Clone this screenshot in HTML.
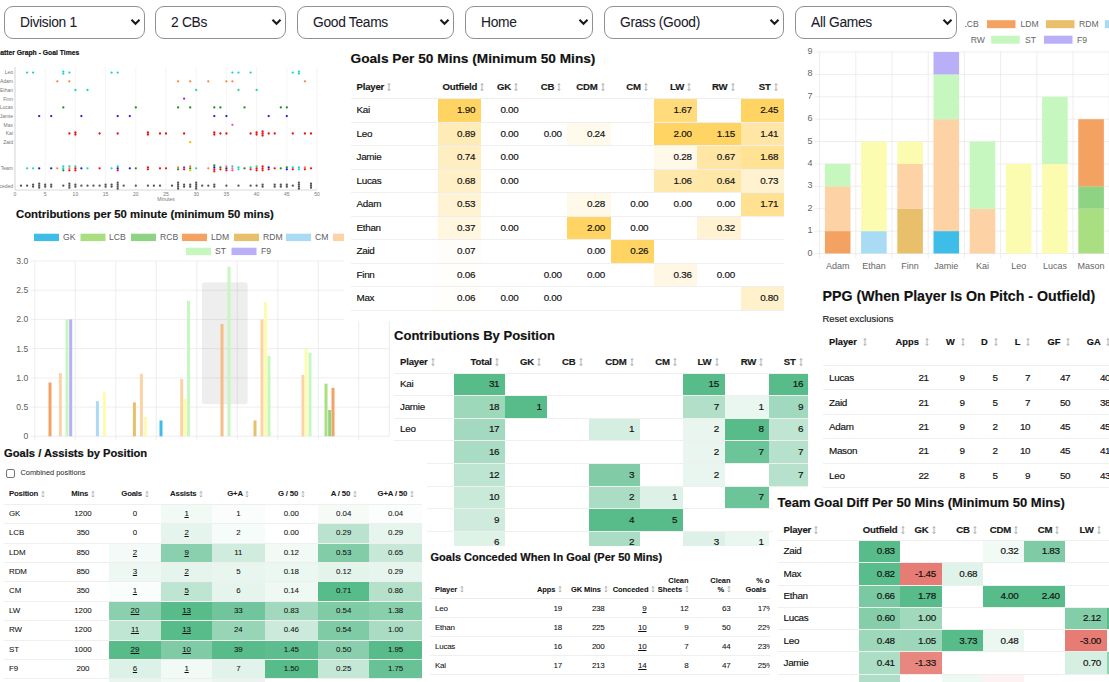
<!DOCTYPE html><html><head><meta charset="utf-8"><style>

*{box-sizing:border-box;margin:0;padding:0}
html,body{width:1109px;height:682px;overflow:hidden;background:#fff;font-family:"Liberation Sans",sans-serif;color:#111}
.p{position:absolute;background:#fff;overflow:hidden}
.a{position:absolute;white-space:nowrap}
.sel{-webkit-text-stroke:0.06px currentColor !important;position:absolute;top:6px;height:33px;border:1px solid #909090;border-radius:9px;background:#fff;font-size:13.8px;letter-spacing:-0.3px;color:#1a1a2a;padding-left:15px;line-height:31px}
.sel svg{position:absolute;right:3px;top:11px}
.ttl{position:absolute;font-weight:bold;color:#111;white-space:nowrap}
table{border-collapse:collapse;position:absolute;table-layout:fixed}
td,th{padding:0;white-space:nowrap;overflow:hidden}
body *{-webkit-text-stroke:0.16px currentColor}
.sm, .sm *{-webkit-text-stroke:0.06px currentColor}
svg *{-webkit-text-stroke:0}
.ar{color:#aaa;font-weight:normal}

</style></head><body>
<div class="p" style="left:0;top:44px;width:334px;height:162px">
<div class="ttl" style="left:-8.2px;top:4.5px;font-size:6.8px">Scatter Graph - Goal Times</div>
<svg width="334" height="162" style="position:absolute;left:0;top:0"><line x1="15.0" y1="23.0" x2="15.0" y2="146.0" stroke="#ececec" stroke-width="0.6"/><line x1="45.2" y1="23.0" x2="45.2" y2="146.0" stroke="#ececec" stroke-width="0.6"/><line x1="75.4" y1="23.0" x2="75.4" y2="146.0" stroke="#ececec" stroke-width="0.6"/><line x1="105.6" y1="23.0" x2="105.6" y2="146.0" stroke="#ececec" stroke-width="0.6"/><line x1="135.8" y1="23.0" x2="135.8" y2="146.0" stroke="#ececec" stroke-width="0.6"/><line x1="166.0" y1="23.0" x2="166.0" y2="146.0" stroke="#ececec" stroke-width="0.6"/><line x1="196.2" y1="23.0" x2="196.2" y2="146.0" stroke="#ececec" stroke-width="0.6"/><line x1="226.4" y1="23.0" x2="226.4" y2="146.0" stroke="#ececec" stroke-width="0.6"/><line x1="256.6" y1="23.0" x2="256.6" y2="146.0" stroke="#ececec" stroke-width="0.6"/><line x1="286.8" y1="23.0" x2="286.8" y2="146.0" stroke="#ececec" stroke-width="0.6"/><line x1="317.0" y1="23.0" x2="317.0" y2="146.0" stroke="#ececec" stroke-width="0.6"/><line x1="15.0" y1="23.0" x2="15.0" y2="146.0" stroke="#cfcfcf" stroke-width="0.8"/><line x1="15.0" y1="146.0" x2="317.0" y2="146.0" stroke="#cfcfcf" stroke-width="0.8"/><text x="13" y="30.4" font-size="5" fill="#777" text-anchor="end" font-family="Liberation Sans">Leo</text><text x="13" y="39.1" font-size="5" fill="#777" text-anchor="end" font-family="Liberation Sans">Adam</text><text x="13" y="47.8" font-size="5" fill="#777" text-anchor="end" font-family="Liberation Sans">Ethan</text><text x="13" y="56.5" font-size="5" fill="#777" text-anchor="end" font-family="Liberation Sans">Finn</text><text x="13" y="65.2" font-size="5" fill="#777" text-anchor="end" font-family="Liberation Sans">Lucas</text><text x="13" y="73.9" font-size="5" fill="#777" text-anchor="end" font-family="Liberation Sans">Jamie</text><text x="13" y="82.6" font-size="5" fill="#777" text-anchor="end" font-family="Liberation Sans">Max</text><text x="13" y="91.3" font-size="5" fill="#777" text-anchor="end" font-family="Liberation Sans">Kai</text><text x="13" y="100.0" font-size="5" fill="#777" text-anchor="end" font-family="Liberation Sans">Zaid</text><text x="13" y="126.1" font-size="5" fill="#777" text-anchor="end" font-family="Liberation Sans">Team</text><text x="13" y="143.5" font-size="5" fill="#777" text-anchor="end" font-family="Liberation Sans">Conceded</text><text x="15.0" y="152.0" font-size="5" fill="#777" text-anchor="middle" font-family="Liberation Sans">0</text><text x="45.2" y="152.0" font-size="5" fill="#777" text-anchor="middle" font-family="Liberation Sans">5</text><text x="75.4" y="152.0" font-size="5" fill="#777" text-anchor="middle" font-family="Liberation Sans">10</text><text x="105.6" y="152.0" font-size="5" fill="#777" text-anchor="middle" font-family="Liberation Sans">15</text><text x="135.8" y="152.0" font-size="5" fill="#777" text-anchor="middle" font-family="Liberation Sans">20</text><text x="166.0" y="152.0" font-size="5" fill="#777" text-anchor="middle" font-family="Liberation Sans">25</text><text x="196.2" y="152.0" font-size="5" fill="#777" text-anchor="middle" font-family="Liberation Sans">30</text><text x="226.4" y="152.0" font-size="5" fill="#777" text-anchor="middle" font-family="Liberation Sans">35</text><text x="256.6" y="152.0" font-size="5" fill="#777" text-anchor="middle" font-family="Liberation Sans">40</text><text x="286.8" y="152.0" font-size="5" fill="#777" text-anchor="middle" font-family="Liberation Sans">45</text><text x="317.0" y="152.0" font-size="5" fill="#777" text-anchor="middle" font-family="Liberation Sans">50</text><text x="166.0" y="157.0" font-size="5" fill="#777" text-anchor="middle" font-family="Liberation Sans">Minutes</text><circle cx="27.1" cy="28.6" r="1.15" fill="#19d3d3"/><circle cx="33.1" cy="28.6" r="1.15" fill="#19d3d3"/><circle cx="63.3" cy="27.6" r="1.15" fill="#19d3d3"/><circle cx="63.3" cy="29.6" r="1.15" fill="#19d3d3"/><circle cx="69.4" cy="28.6" r="1.15" fill="#19d3d3"/><circle cx="111.6" cy="28.6" r="1.15" fill="#19d3d3"/><circle cx="117.7" cy="28.6" r="1.15" fill="#19d3d3"/><circle cx="232.4" cy="28.6" r="1.15" fill="#19d3d3"/><circle cx="238.5" cy="28.6" r="1.15" fill="#19d3d3"/><circle cx="250.6" cy="28.6" r="1.15" fill="#19d3d3"/><circle cx="292.8" cy="28.6" r="1.15" fill="#19d3d3"/><circle cx="298.9" cy="27.6" r="1.15" fill="#19d3d3"/><circle cx="298.9" cy="29.6" r="1.15" fill="#19d3d3"/><circle cx="57.3" cy="37.3" r="1.15" fill="#ff8040"/><circle cx="69.4" cy="37.3" r="1.15" fill="#ff8040"/><circle cx="178.1" cy="37.3" r="1.15" fill="#ff8040"/><circle cx="190.2" cy="37.3" r="1.15" fill="#ff8040"/><circle cx="208.3" cy="37.3" r="1.15" fill="#ff8040"/><circle cx="226.4" cy="37.3" r="1.15" fill="#ff8040"/><circle cx="232.4" cy="37.3" r="1.15" fill="#ff8040"/><circle cx="304.9" cy="37.3" r="1.15" fill="#ff8040"/><circle cx="75.4" cy="46.0" r="1.15" fill="#1fdc9a"/><circle cx="87.5" cy="46.0" r="1.15" fill="#1fdc9a"/><circle cx="196.2" cy="46.0" r="1.15" fill="#1fdc9a"/><circle cx="238.5" cy="46.0" r="1.15" fill="#1fdc9a"/><circle cx="256.6" cy="46.0" r="1.15" fill="#1fdc9a"/><circle cx="184.1" cy="54.7" r="1.15" fill="#a020f0"/><circle cx="63.3" cy="63.4" r="1.15" fill="#228b22"/><circle cx="135.8" cy="63.4" r="1.15" fill="#228b22"/><circle cx="178.1" cy="63.4" r="1.15" fill="#228b22"/><circle cx="190.2" cy="63.4" r="1.15" fill="#228b22"/><circle cx="214.3" cy="63.4" r="1.15" fill="#228b22"/><circle cx="220.4" cy="63.4" r="1.15" fill="#228b22"/><circle cx="244.5" cy="63.4" r="1.15" fill="#228b22"/><circle cx="280.8" cy="63.4" r="1.15" fill="#228b22"/><circle cx="286.8" cy="63.4" r="1.15" fill="#228b22"/><circle cx="39.2" cy="72.1" r="1.15" fill="#1a1ae6"/><circle cx="51.2" cy="72.1" r="1.15" fill="#1a1ae6"/><circle cx="81.4" cy="72.1" r="1.15" fill="#1a1ae6"/><circle cx="117.7" cy="72.1" r="1.15" fill="#1a1ae6"/><circle cx="129.8" cy="72.1" r="1.15" fill="#1a1ae6"/><circle cx="214.3" cy="72.1" r="1.15" fill="#1a1ae6"/><circle cx="226.4" cy="72.1" r="1.15" fill="#1a1ae6"/><circle cx="268.7" cy="72.1" r="1.15" fill="#1a1ae6"/><circle cx="286.8" cy="72.1" r="1.15" fill="#1a1ae6"/><circle cx="232.4" cy="80.8" r="1.15" fill="#ff40c0"/><circle cx="69.4" cy="89.5" r="1.15" fill="#f01010"/><circle cx="75.4" cy="88.5" r="1.15" fill="#f01010"/><circle cx="75.4" cy="90.5" r="1.15" fill="#f01010"/><circle cx="99.6" cy="89.5" r="1.15" fill="#f01010"/><circle cx="117.7" cy="89.5" r="1.15" fill="#f01010"/><circle cx="147.9" cy="88.5" r="1.15" fill="#f01010"/><circle cx="147.9" cy="90.5" r="1.15" fill="#f01010"/><circle cx="160.0" cy="89.5" r="1.15" fill="#f01010"/><circle cx="166.0" cy="89.5" r="1.15" fill="#f01010"/><circle cx="184.1" cy="89.5" r="1.15" fill="#f01010"/><circle cx="214.3" cy="88.5" r="1.15" fill="#f01010"/><circle cx="214.3" cy="90.5" r="1.15" fill="#f01010"/><circle cx="220.4" cy="89.5" r="1.15" fill="#f01010"/><circle cx="226.4" cy="89.5" r="1.15" fill="#f01010"/><circle cx="250.6" cy="89.5" r="1.15" fill="#f01010"/><circle cx="256.6" cy="88.5" r="1.15" fill="#f01010"/><circle cx="256.6" cy="90.5" r="1.15" fill="#f01010"/><circle cx="262.6" cy="87.5" r="1.15" fill="#f01010"/><circle cx="262.6" cy="89.5" r="1.15" fill="#f01010"/><circle cx="262.6" cy="91.5" r="1.15" fill="#f01010"/><circle cx="268.7" cy="89.5" r="1.15" fill="#f01010"/><circle cx="274.7" cy="89.5" r="1.15" fill="#f01010"/><circle cx="292.8" cy="89.5" r="1.15" fill="#f01010"/><circle cx="304.9" cy="89.5" r="1.15" fill="#f01010"/><circle cx="311.0" cy="89.5" r="1.15" fill="#f01010"/><circle cx="190.2" cy="98.2" r="1.15" fill="#e8c000"/><circle cx="27.1" cy="124.3" r="1.15" fill="#19d3d3"/><circle cx="33.1" cy="124.3" r="1.15" fill="#19d3d3"/><circle cx="63.3" cy="122.3" r="1.15" fill="#19d3d3"/><circle cx="63.3" cy="124.3" r="1.15" fill="#19d3d3"/><circle cx="63.3" cy="126.3" r="1.15" fill="#228b22"/><circle cx="69.4" cy="122.3" r="1.15" fill="#19d3d3"/><circle cx="69.4" cy="124.3" r="1.15" fill="#ff8040"/><circle cx="69.4" cy="126.3" r="1.15" fill="#f01010"/><circle cx="111.6" cy="124.3" r="1.15" fill="#19d3d3"/><circle cx="117.7" cy="122.3" r="1.15" fill="#19d3d3"/><circle cx="117.7" cy="124.3" r="1.15" fill="#1a1ae6"/><circle cx="117.7" cy="126.3" r="1.15" fill="#f01010"/><circle cx="232.4" cy="122.3" r="1.15" fill="#19d3d3"/><circle cx="232.4" cy="124.3" r="1.15" fill="#ff8040"/><circle cx="232.4" cy="126.3" r="1.15" fill="#ff40c0"/><circle cx="238.5" cy="123.3" r="1.15" fill="#19d3d3"/><circle cx="238.5" cy="125.3" r="1.15" fill="#1fdc9a"/><circle cx="250.6" cy="123.3" r="1.15" fill="#19d3d3"/><circle cx="250.6" cy="125.3" r="1.15" fill="#f01010"/><circle cx="292.8" cy="123.3" r="1.15" fill="#19d3d3"/><circle cx="292.8" cy="125.3" r="1.15" fill="#f01010"/><circle cx="298.9" cy="123.3" r="1.15" fill="#19d3d3"/><circle cx="298.9" cy="125.3" r="1.15" fill="#19d3d3"/><circle cx="57.3" cy="124.3" r="1.15" fill="#ff8040"/><circle cx="178.1" cy="123.3" r="1.15" fill="#ff8040"/><circle cx="178.1" cy="125.3" r="1.15" fill="#228b22"/><circle cx="190.2" cy="122.3" r="1.15" fill="#ff8040"/><circle cx="190.2" cy="124.3" r="1.15" fill="#228b22"/><circle cx="190.2" cy="126.3" r="1.15" fill="#e8c000"/><circle cx="208.3" cy="124.3" r="1.15" fill="#ff8040"/><circle cx="226.4" cy="122.3" r="1.15" fill="#ff8040"/><circle cx="226.4" cy="124.3" r="1.15" fill="#1a1ae6"/><circle cx="226.4" cy="126.3" r="1.15" fill="#f01010"/><circle cx="304.9" cy="123.3" r="1.15" fill="#ff8040"/><circle cx="304.9" cy="125.3" r="1.15" fill="#f01010"/><circle cx="75.4" cy="122.3" r="1.15" fill="#1fdc9a"/><circle cx="75.4" cy="124.3" r="1.15" fill="#f01010"/><circle cx="75.4" cy="126.3" r="1.15" fill="#f01010"/><circle cx="87.5" cy="124.3" r="1.15" fill="#1fdc9a"/><circle cx="196.2" cy="124.3" r="1.15" fill="#1fdc9a"/><circle cx="256.6" cy="122.3" r="1.15" fill="#1fdc9a"/><circle cx="256.6" cy="124.3" r="1.15" fill="#f01010"/><circle cx="256.6" cy="126.3" r="1.15" fill="#f01010"/><circle cx="184.1" cy="123.3" r="1.15" fill="#a020f0"/><circle cx="184.1" cy="125.3" r="1.15" fill="#f01010"/><circle cx="135.8" cy="124.3" r="1.15" fill="#228b22"/><circle cx="214.3" cy="121.3" r="1.15" fill="#228b22"/><circle cx="214.3" cy="123.3" r="1.15" fill="#1a1ae6"/><circle cx="214.3" cy="125.3" r="1.15" fill="#f01010"/><circle cx="214.3" cy="127.3" r="1.15" fill="#f01010"/><circle cx="220.4" cy="123.3" r="1.15" fill="#228b22"/><circle cx="220.4" cy="125.3" r="1.15" fill="#f01010"/><circle cx="244.5" cy="124.3" r="1.15" fill="#228b22"/><circle cx="280.8" cy="124.3" r="1.15" fill="#228b22"/><circle cx="286.8" cy="123.3" r="1.15" fill="#228b22"/><circle cx="286.8" cy="125.3" r="1.15" fill="#1a1ae6"/><circle cx="39.2" cy="124.3" r="1.15" fill="#1a1ae6"/><circle cx="51.2" cy="124.3" r="1.15" fill="#1a1ae6"/><circle cx="81.4" cy="124.3" r="1.15" fill="#1a1ae6"/><circle cx="129.8" cy="124.3" r="1.15" fill="#1a1ae6"/><circle cx="268.7" cy="123.3" r="1.15" fill="#1a1ae6"/><circle cx="268.7" cy="125.3" r="1.15" fill="#f01010"/><circle cx="99.6" cy="124.3" r="1.15" fill="#f01010"/><circle cx="147.9" cy="123.3" r="1.15" fill="#f01010"/><circle cx="147.9" cy="125.3" r="1.15" fill="#f01010"/><circle cx="160.0" cy="124.3" r="1.15" fill="#f01010"/><circle cx="166.0" cy="124.3" r="1.15" fill="#f01010"/><circle cx="262.6" cy="122.3" r="1.15" fill="#f01010"/><circle cx="262.6" cy="124.3" r="1.15" fill="#f01010"/><circle cx="262.6" cy="126.3" r="1.15" fill="#f01010"/><circle cx="274.7" cy="124.3" r="1.15" fill="#f01010"/><circle cx="311.0" cy="124.3" r="1.15" fill="#f01010"/><circle cx="21.0" cy="141.7" r="1.15" fill="#555"/><circle cx="27.1" cy="141.7" r="1.15" fill="#555"/><circle cx="33.1" cy="140.7" r="1.15" fill="#555"/><circle cx="33.1" cy="142.7" r="1.15" fill="#555"/><circle cx="39.2" cy="139.7" r="1.15" fill="#555"/><circle cx="39.2" cy="141.7" r="1.15" fill="#555"/><circle cx="39.2" cy="143.7" r="1.15" fill="#555"/><circle cx="45.2" cy="140.7" r="1.15" fill="#555"/><circle cx="45.2" cy="142.7" r="1.15" fill="#555"/><circle cx="51.2" cy="140.7" r="1.15" fill="#555"/><circle cx="51.2" cy="142.7" r="1.15" fill="#555"/><circle cx="63.3" cy="141.7" r="1.15" fill="#555"/><circle cx="69.4" cy="139.7" r="1.15" fill="#555"/><circle cx="69.4" cy="141.7" r="1.15" fill="#555"/><circle cx="69.4" cy="143.7" r="1.15" fill="#555"/><circle cx="75.4" cy="140.7" r="1.15" fill="#555"/><circle cx="75.4" cy="142.7" r="1.15" fill="#555"/><circle cx="81.4" cy="141.7" r="1.15" fill="#555"/><circle cx="87.5" cy="141.7" r="1.15" fill="#555"/><circle cx="93.5" cy="141.7" r="1.15" fill="#555"/><circle cx="99.6" cy="141.7" r="1.15" fill="#555"/><circle cx="105.6" cy="140.7" r="1.15" fill="#555"/><circle cx="105.6" cy="142.7" r="1.15" fill="#555"/><circle cx="111.6" cy="140.7" r="1.15" fill="#555"/><circle cx="111.6" cy="142.7" r="1.15" fill="#555"/><circle cx="117.7" cy="138.7" r="1.15" fill="#555"/><circle cx="117.7" cy="140.7" r="1.15" fill="#555"/><circle cx="117.7" cy="142.7" r="1.15" fill="#555"/><circle cx="117.7" cy="144.7" r="1.15" fill="#555"/><circle cx="123.7" cy="141.7" r="1.15" fill="#555"/><circle cx="135.8" cy="141.7" r="1.15" fill="#555"/><circle cx="147.9" cy="141.7" r="1.15" fill="#555"/><circle cx="153.9" cy="141.7" r="1.15" fill="#555"/><circle cx="160.0" cy="141.7" r="1.15" fill="#555"/><circle cx="172.0" cy="141.7" r="1.15" fill="#555"/><circle cx="178.1" cy="138.7" r="1.15" fill="#555"/><circle cx="178.1" cy="140.7" r="1.15" fill="#555"/><circle cx="178.1" cy="142.7" r="1.15" fill="#555"/><circle cx="178.1" cy="144.7" r="1.15" fill="#555"/><circle cx="184.1" cy="140.7" r="1.15" fill="#555"/><circle cx="184.1" cy="142.7" r="1.15" fill="#555"/><circle cx="190.2" cy="140.7" r="1.15" fill="#555"/><circle cx="190.2" cy="142.7" r="1.15" fill="#555"/><circle cx="196.2" cy="138.7" r="1.15" fill="#555"/><circle cx="196.2" cy="140.7" r="1.15" fill="#555"/><circle cx="196.2" cy="142.7" r="1.15" fill="#555"/><circle cx="196.2" cy="144.7" r="1.15" fill="#555"/><circle cx="202.2" cy="141.7" r="1.15" fill="#555"/><circle cx="208.3" cy="141.7" r="1.15" fill="#555"/><circle cx="214.3" cy="140.7" r="1.15" fill="#555"/><circle cx="214.3" cy="142.7" r="1.15" fill="#555"/><circle cx="226.4" cy="141.7" r="1.15" fill="#555"/><circle cx="238.5" cy="141.7" r="1.15" fill="#555"/><circle cx="250.6" cy="141.7" r="1.15" fill="#555"/><circle cx="256.6" cy="141.7" r="1.15" fill="#555"/><circle cx="262.6" cy="140.7" r="1.15" fill="#555"/><circle cx="262.6" cy="142.7" r="1.15" fill="#555"/><circle cx="274.7" cy="140.7" r="1.15" fill="#555"/><circle cx="274.7" cy="142.7" r="1.15" fill="#555"/><circle cx="280.8" cy="140.7" r="1.15" fill="#555"/><circle cx="280.8" cy="142.7" r="1.15" fill="#555"/><circle cx="286.8" cy="140.7" r="1.15" fill="#555"/><circle cx="286.8" cy="142.7" r="1.15" fill="#555"/><circle cx="292.8" cy="141.7" r="1.15" fill="#555"/><circle cx="298.9" cy="138.7" r="1.15" fill="#555"/><circle cx="298.9" cy="140.7" r="1.15" fill="#555"/><circle cx="298.9" cy="142.7" r="1.15" fill="#555"/><circle cx="298.9" cy="144.7" r="1.15" fill="#555"/><circle cx="311.0" cy="139.7" r="1.15" fill="#555"/><circle cx="311.0" cy="141.7" r="1.15" fill="#555"/><circle cx="311.0" cy="143.7" r="1.15" fill="#555"/></svg>
</div>
<div class="p" style="left:0;top:205px;width:392px;height:236px">
<div class="ttl" style="left:16px;top:3px;font-size:11.35px">Contributions per 50 minute (minimum 50 mins)</div>
<svg width="392" height="236" style="position:absolute;left:0;top:0"><rect x="34.0" y="28.7" width="25" height="7.4" fill="#3ebde9"/><text x="63.0" y="35.4" font-size="8.6" fill="#606060" font-family="Liberation Sans">GK</text><rect x="80.5" y="28.7" width="25" height="7.4" fill="#a9df80"/><text x="109.0" y="35.4" font-size="8.6" fill="#606060" font-family="Liberation Sans">LCB</text><rect x="131.0" y="28.7" width="25" height="7.4" fill="#8ed383"/><text x="160.0" y="35.4" font-size="8.6" fill="#606060" font-family="Liberation Sans">RCB</text><rect x="182.0" y="28.7" width="25" height="7.4" fill="#f4a262"/><text x="211.0" y="35.4" font-size="8.6" fill="#606060" font-family="Liberation Sans">LDM</text><rect x="234.0" y="28.7" width="25" height="7.4" fill="#e8bf6a"/><text x="263.0" y="35.4" font-size="8.6" fill="#606060" font-family="Liberation Sans">RDM</text><rect x="286.0" y="28.7" width="25" height="7.4" fill="#a9dbf5"/><text x="315.0" y="35.4" font-size="8.6" fill="#606060" font-family="Liberation Sans">CM</text><rect x="333.0" y="28.7" width="25" height="7.4" fill="#fdd3a5"/><text x="362.0" y="35.4" font-size="8.6" fill="#606060" font-family="Liberation Sans">CDM</text><rect x="186.0" y="42.7" width="25" height="7.4" fill="#c5f7bf"/><text x="215.0" y="49.4" font-size="8.6" fill="#606060" font-family="Liberation Sans">ST</text><rect x="231.5" y="42.7" width="25" height="7.4" fill="#b9aef8"/><text x="261.0" y="49.4" font-size="8.6" fill="#606060" font-family="Liberation Sans">F9</text><line x1="30.8" y1="231.3" x2="389.3" y2="231.3" stroke="#e6e6e6" stroke-width="0.7"/><text x="28.2" y="234.3" font-size="8.6" fill="#606060" text-anchor="end" font-family="Liberation Sans">0</text><line x1="30.8" y1="202.1" x2="389.3" y2="202.1" stroke="#e6e6e6" stroke-width="0.7"/><text x="28.2" y="205.1" font-size="8.6" fill="#606060" text-anchor="end" font-family="Liberation Sans">0.5</text><line x1="30.8" y1="172.9" x2="389.3" y2="172.9" stroke="#e6e6e6" stroke-width="0.7"/><text x="28.2" y="175.9" font-size="8.6" fill="#606060" text-anchor="end" font-family="Liberation Sans">1.0</text><line x1="30.8" y1="143.6" x2="389.3" y2="143.6" stroke="#e6e6e6" stroke-width="0.7"/><text x="28.2" y="146.6" font-size="8.6" fill="#606060" text-anchor="end" font-family="Liberation Sans">1.5</text><line x1="30.8" y1="114.4" x2="389.3" y2="114.4" stroke="#e6e6e6" stroke-width="0.7"/><text x="28.2" y="117.4" font-size="8.6" fill="#606060" text-anchor="end" font-family="Liberation Sans">2.0</text><line x1="30.8" y1="85.2" x2="389.3" y2="85.2" stroke="#e6e6e6" stroke-width="0.7"/><text x="28.2" y="88.2" font-size="8.6" fill="#606060" text-anchor="end" font-family="Liberation Sans">2.5</text><line x1="30.8" y1="56.0" x2="389.3" y2="56.0" stroke="#e6e6e6" stroke-width="0.7"/><text x="28.2" y="59.0" font-size="8.6" fill="#606060" text-anchor="end" font-family="Liberation Sans">3.0</text><line x1="34.8" y1="56.0" x2="34.8" y2="235.3" stroke="#e6e6e6" stroke-width="0.7"/><line x1="75.3" y1="56.0" x2="75.3" y2="235.3" stroke="#e6e6e6" stroke-width="0.7"/><line x1="115.8" y1="56.0" x2="115.8" y2="235.3" stroke="#e6e6e6" stroke-width="0.7"/><line x1="156.3" y1="56.0" x2="156.3" y2="235.3" stroke="#e6e6e6" stroke-width="0.7"/><line x1="196.8" y1="56.0" x2="196.8" y2="235.3" stroke="#e6e6e6" stroke-width="0.7"/><line x1="237.3" y1="56.0" x2="237.3" y2="235.3" stroke="#e6e6e6" stroke-width="0.7"/><line x1="277.8" y1="56.0" x2="277.8" y2="235.3" stroke="#e6e6e6" stroke-width="0.7"/><line x1="318.3" y1="56.0" x2="318.3" y2="235.3" stroke="#e6e6e6" stroke-width="0.7"/><line x1="358.8" y1="56.0" x2="358.8" y2="235.3" stroke="#e6e6e6" stroke-width="0.7"/><line x1="399.3" y1="56.0" x2="399.3" y2="235.3" stroke="#e6e6e6" stroke-width="0.7"/><line x1="389.3" y1="56.0" x2="389.3" y2="231.3" stroke="#e6e6e6" stroke-width="0.8"/><rect x="202" y="77.2" width="45.7" height="122" rx="3" fill="#000" fill-opacity="0.065"/><rect x="48.5" y="177.5" width="3" height="53.8" fill="#f4a262"/><rect x="58.9" y="168.2" width="3" height="63.1" fill="#fdd3a5"/><rect x="65.5" y="114.4" width="3" height="116.9" fill="#c5f7bf"/><rect x="69.2" y="114.4" width="3" height="116.9" fill="#b9aef8"/><rect x="95.9" y="196.2" width="3" height="35.1" fill="#a9dbf5"/><rect x="102.9" y="186.9" width="3" height="44.4" fill="#fcfcb0"/><rect x="132.9" y="197.4" width="3" height="33.9" fill="#e8bf6a"/><rect x="139.9" y="168.8" width="3" height="62.5" fill="#fdd3a5"/><rect x="143.9" y="212.0" width="3" height="19.3" fill="#fcfcb0"/><rect x="159.5" y="215.5" width="3" height="15.8" fill="#3ebde9"/><rect x="180.2" y="174.0" width="3" height="57.3" fill="#fdd3a5"/><rect x="183.5" y="193.3" width="3" height="38.0" fill="#fcfcb0"/><rect x="187.1" y="95.7" width="3" height="135.6" fill="#c5f7bf"/><rect x="220.5" y="119.1" width="3" height="112.2" fill="#f7bd85"/><rect x="227.5" y="61.8" width="3" height="169.5" fill="#c5f7bf"/><rect x="253.5" y="215.5" width="3" height="15.8" fill="#e8bf6a"/><rect x="260.5" y="114.4" width="3" height="116.9" fill="#fdd3a5"/><rect x="264.1" y="96.9" width="3" height="134.4" fill="#fcfcb0"/><rect x="267.5" y="151.2" width="3" height="80.1" fill="#c5f7bf"/><rect x="301.5" y="169.9" width="3" height="61.4" fill="#fdd3a5"/><rect x="304.5" y="143.6" width="3" height="87.7" fill="#fcfcb0"/><rect x="308.5" y="147.7" width="3" height="83.6" fill="#c5f7bf"/><rect x="324.5" y="178.7" width="3" height="52.6" fill="#a9df80"/><rect x="328.2" y="205.0" width="3" height="26.3" fill="#8ed383"/><rect x="331.5" y="182.8" width="3" height="48.5" fill="#f4a262"/></svg>
</div>
<div class="p" style="left:796px;top:44px;width:313px;height:240px">
<svg width="313" height="240" style="position:absolute;left:0;top:0"><line x1="18.6" y1="209.5" x2="313" y2="209.5" stroke="#e6e6e6" stroke-width="0.7"/><text x="16.5" y="211.5" font-size="9" fill="#666" text-anchor="end" font-family="Liberation Sans">0</text><line x1="18.6" y1="187.1" x2="313" y2="187.1" stroke="#e6e6e6" stroke-width="0.7"/><text x="16.5" y="189.1" font-size="9" fill="#666" text-anchor="end" font-family="Liberation Sans">1</text><line x1="18.6" y1="164.7" x2="313" y2="164.7" stroke="#e6e6e6" stroke-width="0.7"/><text x="16.5" y="166.7" font-size="9" fill="#666" text-anchor="end" font-family="Liberation Sans">2</text><line x1="18.6" y1="142.3" x2="313" y2="142.3" stroke="#e6e6e6" stroke-width="0.7"/><text x="16.5" y="144.3" font-size="9" fill="#666" text-anchor="end" font-family="Liberation Sans">3</text><line x1="18.6" y1="119.9" x2="313" y2="119.9" stroke="#e6e6e6" stroke-width="0.7"/><text x="16.5" y="121.9" font-size="9" fill="#666" text-anchor="end" font-family="Liberation Sans">4</text><line x1="18.6" y1="97.6" x2="313" y2="97.6" stroke="#e6e6e6" stroke-width="0.7"/><text x="16.5" y="99.6" font-size="9" fill="#666" text-anchor="end" font-family="Liberation Sans">5</text><line x1="18.6" y1="75.2" x2="313" y2="75.2" stroke="#e6e6e6" stroke-width="0.7"/><text x="16.5" y="77.2" font-size="9" fill="#666" text-anchor="end" font-family="Liberation Sans">6</text><line x1="18.6" y1="52.8" x2="313" y2="52.8" stroke="#e6e6e6" stroke-width="0.7"/><text x="16.5" y="54.8" font-size="9" fill="#666" text-anchor="end" font-family="Liberation Sans">7</text><line x1="18.6" y1="30.4" x2="313" y2="30.4" stroke="#e6e6e6" stroke-width="0.7"/><text x="16.5" y="32.4" font-size="9" fill="#666" text-anchor="end" font-family="Liberation Sans">8</text><line x1="18.6" y1="8.0" x2="313" y2="8.0" stroke="#e6e6e6" stroke-width="0.7"/><text x="16.5" y="10.0" font-size="9" fill="#666" text-anchor="end" font-family="Liberation Sans">9</text><line x1="23.6" y1="8.0" x2="23.6" y2="214.5" stroke="#e6e6e6" stroke-width="0.7"/><line x1="59.8" y1="8.0" x2="59.8" y2="214.5" stroke="#e6e6e6" stroke-width="0.7"/><line x1="96.0" y1="8.0" x2="96.0" y2="214.5" stroke="#e6e6e6" stroke-width="0.7"/><line x1="132.2" y1="8.0" x2="132.2" y2="214.5" stroke="#e6e6e6" stroke-width="0.7"/><line x1="168.4" y1="8.0" x2="168.4" y2="214.5" stroke="#e6e6e6" stroke-width="0.7"/><line x1="204.6" y1="8.0" x2="204.6" y2="214.5" stroke="#e6e6e6" stroke-width="0.7"/><line x1="240.8" y1="8.0" x2="240.8" y2="214.5" stroke="#e6e6e6" stroke-width="0.7"/><line x1="277.0" y1="8.0" x2="277.0" y2="214.5" stroke="#e6e6e6" stroke-width="0.7"/><line x1="313.2" y1="8.0" x2="313.2" y2="214.5" stroke="#e6e6e6" stroke-width="0.7"/><rect x="28.9" y="187.1" width="25.6" height="22.4" fill="#f4a262"/><rect x="28.9" y="142.3" width="25.6" height="44.8" fill="#fdd3a5"/><rect x="28.9" y="119.9" width="25.6" height="22.4" fill="#c5f7bf"/><text x="41.7" y="224.8" font-size="9" fill="#666" text-anchor="middle" font-family="Liberation Sans">Adam</text><rect x="65.1" y="187.1" width="25.6" height="22.4" fill="#a9dbf5"/><rect x="65.1" y="97.6" width="25.6" height="89.6" fill="#fcfcb0"/><text x="77.9" y="224.8" font-size="9" fill="#666" text-anchor="middle" font-family="Liberation Sans">Ethan</text><rect x="101.3" y="164.7" width="25.6" height="44.8" fill="#e8bf6a"/><rect x="101.3" y="119.9" width="25.6" height="44.8" fill="#fdd3a5"/><rect x="101.3" y="97.6" width="25.6" height="22.4" fill="#fcfcb0"/><text x="114.1" y="224.8" font-size="9" fill="#666" text-anchor="middle" font-family="Liberation Sans">Finn</text><rect x="137.5" y="187.1" width="25.6" height="22.4" fill="#3ebde9"/><rect x="137.5" y="75.2" width="25.6" height="111.9" fill="#fdd3a5"/><rect x="137.5" y="30.4" width="25.6" height="44.8" fill="#c5f7bf"/><rect x="137.5" y="8.0" width="25.6" height="22.4" fill="#b9aef8"/><text x="150.3" y="224.8" font-size="9" fill="#666" text-anchor="middle" font-family="Liberation Sans">Jamie</text><rect x="173.7" y="164.7" width="25.6" height="44.8" fill="#fdd3a5"/><rect x="173.7" y="97.6" width="25.6" height="67.2" fill="#c5f7bf"/><text x="186.5" y="224.8" font-size="9" fill="#666" text-anchor="middle" font-family="Liberation Sans">Kai</text><rect x="209.9" y="119.9" width="25.6" height="89.6" fill="#fcfcb0"/><text x="222.7" y="224.8" font-size="9" fill="#666" text-anchor="middle" font-family="Liberation Sans">Leo</text><rect x="246.1" y="119.9" width="25.6" height="89.6" fill="#fcfcb0"/><rect x="246.1" y="52.8" width="25.6" height="67.2" fill="#c5f7bf"/><text x="258.9" y="224.8" font-size="9" fill="#666" text-anchor="middle" font-family="Liberation Sans">Lucas</text><rect x="282.3" y="164.7" width="25.6" height="44.8" fill="#a9df80"/><rect x="282.3" y="142.3" width="25.6" height="22.4" fill="#8ed383"/><rect x="282.3" y="75.2" width="25.6" height="67.2" fill="#f4a262"/><text x="295.1" y="224.8" font-size="9" fill="#666" text-anchor="middle" font-family="Liberation Sans">Mason</text></svg>
</div>
<div class="p" style="left:965px;top:14px;width:144px;height:32px;background:transparent">
<svg width="146" height="32" style="position:absolute;left:0;top:0"><rect x="22.0" y="6.2" width="28.5" height="8" fill="#f4a262"/><rect x="81.0" y="6.2" width="28.5" height="8" fill="#e8bf6a"/><rect x="139.8" y="6.2" width="28.5" height="8" fill="#a9dbf5"/><rect x="26.2" y="21.7" width="28.5" height="8" fill="#c5f7bf"/><rect x="79.0" y="21.7" width="28.5" height="8" fill="#b9aef8"/><text x="-3.0" y="13.0" font-size="8.6" fill="#666" font-family="Liberation Sans">LCB</text><text x="55.5" y="13.0" font-size="8.6" fill="#666" font-family="Liberation Sans">LDM</text><text x="114.0" y="13.0" font-size="8.6" fill="#666" font-family="Liberation Sans">RDM</text><text x="5.8" y="28.5" font-size="8.6" fill="#666" font-family="Liberation Sans">RW</text><text x="60.0" y="28.5" font-size="8.6" fill="#666" font-family="Liberation Sans">ST</text><text x="112.0" y="28.5" font-size="8.6" fill="#666" font-family="Liberation Sans">F9</text></svg>
</div>
<div class="p" style="left:344.0px;top:44.0px;width:448px;height:277.0px">
<div class="ttl" style="left:6.5px;top:7.0px;font-size:13.7px">Goals Per 50 Mins (Minimum 50 Mins)</div>
<table style="left:6.5px;top:31.0px;width:433.4px"><colgroup><col style="width:87.00px"><col style="width:43.30px"><col style="width:43.30px"><col style="width:43.30px"><col style="width:43.30px"><col style="width:43.30px"><col style="width:43.30px"><col style="width:43.30px"><col style="width:43.30px"></colgroup><tr style="height:23.5px"><th style="text-align:left;padding-right:0.0px;padding-left:6.0px;font-size:9.60px;letter-spacing:-0.20px;font-weight:bold;color:#1a1a1a;border-bottom:1px solid #efefef;vertical-align:middle;overflow:visible"><span style="position:relative;left:0.0px">Player<svg width="4" height="8.2" viewBox="0 0 4 8" preserveAspectRatio="none" style="vertical-align:-1.2px;margin-left:3.2px"><path d="M2 0.6V7.4M0.6 2.1L2 0.6L3.4 2.1M0.6 5.9L2 7.4L3.4 5.9" stroke="#a8a8a8" stroke-width="0.9" fill="none"/></svg></span></th><th style="text-align:right;padding-right:6.0px;padding-left:0.0px;font-size:9.60px;letter-spacing:-0.20px;font-weight:bold;color:#1a1a1a;border-bottom:1px solid #efefef;vertical-align:middle;overflow:visible"><span style="position:relative;left:5.0px">Outfield<svg width="4" height="8.2" viewBox="0 0 4 8" preserveAspectRatio="none" style="vertical-align:-1.2px;margin-left:3.2px"><path d="M2 0.6V7.4M0.6 2.1L2 0.6L3.4 2.1M0.6 5.9L2 7.4L3.4 5.9" stroke="#a8a8a8" stroke-width="0.9" fill="none"/></svg></span></th><th style="text-align:right;padding-right:6.0px;padding-left:0.0px;font-size:9.60px;letter-spacing:-0.20px;font-weight:bold;color:#1a1a1a;border-bottom:1px solid #efefef;vertical-align:middle;overflow:visible"><span style="position:relative;left:0.0px">GK<svg width="4" height="8.2" viewBox="0 0 4 8" preserveAspectRatio="none" style="vertical-align:-1.2px;margin-left:3.2px"><path d="M2 0.6V7.4M0.6 2.1L2 0.6L3.4 2.1M0.6 5.9L2 7.4L3.4 5.9" stroke="#a8a8a8" stroke-width="0.9" fill="none"/></svg></span></th><th style="text-align:right;padding-right:6.0px;padding-left:0.0px;font-size:9.60px;letter-spacing:-0.20px;font-weight:bold;color:#1a1a1a;border-bottom:1px solid #efefef;vertical-align:middle;overflow:visible"><span style="position:relative;left:0.0px">CB<svg width="4" height="8.2" viewBox="0 0 4 8" preserveAspectRatio="none" style="vertical-align:-1.2px;margin-left:3.2px"><path d="M2 0.6V7.4M0.6 2.1L2 0.6L3.4 2.1M0.6 5.9L2 7.4L3.4 5.9" stroke="#a8a8a8" stroke-width="0.9" fill="none"/></svg></span></th><th style="text-align:right;padding-right:6.0px;padding-left:0.0px;font-size:9.60px;letter-spacing:-0.20px;font-weight:bold;color:#1a1a1a;border-bottom:1px solid #efefef;vertical-align:middle;overflow:visible"><span style="position:relative;left:0.0px">CDM<svg width="4" height="8.2" viewBox="0 0 4 8" preserveAspectRatio="none" style="vertical-align:-1.2px;margin-left:3.2px"><path d="M2 0.6V7.4M0.6 2.1L2 0.6L3.4 2.1M0.6 5.9L2 7.4L3.4 5.9" stroke="#a8a8a8" stroke-width="0.9" fill="none"/></svg></span></th><th style="text-align:right;padding-right:6.0px;padding-left:0.0px;font-size:9.60px;letter-spacing:-0.20px;font-weight:bold;color:#1a1a1a;border-bottom:1px solid #efefef;vertical-align:middle;overflow:visible"><span style="position:relative;left:0.0px">CM<svg width="4" height="8.2" viewBox="0 0 4 8" preserveAspectRatio="none" style="vertical-align:-1.2px;margin-left:3.2px"><path d="M2 0.6V7.4M0.6 2.1L2 0.6L3.4 2.1M0.6 5.9L2 7.4L3.4 5.9" stroke="#a8a8a8" stroke-width="0.9" fill="none"/></svg></span></th><th style="text-align:right;padding-right:6.0px;padding-left:0.0px;font-size:9.60px;letter-spacing:-0.20px;font-weight:bold;color:#1a1a1a;border-bottom:1px solid #efefef;vertical-align:middle;overflow:visible"><span style="position:relative;left:0.0px">LW<svg width="4" height="8.2" viewBox="0 0 4 8" preserveAspectRatio="none" style="vertical-align:-1.2px;margin-left:3.2px"><path d="M2 0.6V7.4M0.6 2.1L2 0.6L3.4 2.1M0.6 5.9L2 7.4L3.4 5.9" stroke="#a8a8a8" stroke-width="0.9" fill="none"/></svg></span></th><th style="text-align:right;padding-right:6.0px;padding-left:0.0px;font-size:9.60px;letter-spacing:-0.20px;font-weight:bold;color:#1a1a1a;border-bottom:1px solid #efefef;vertical-align:middle;overflow:visible"><span style="position:relative;left:0.0px">RW<svg width="4" height="8.2" viewBox="0 0 4 8" preserveAspectRatio="none" style="vertical-align:-1.2px;margin-left:3.2px"><path d="M2 0.6V7.4M0.6 2.1L2 0.6L3.4 2.1M0.6 5.9L2 7.4L3.4 5.9" stroke="#a8a8a8" stroke-width="0.9" fill="none"/></svg></span></th><th style="text-align:right;padding-right:6.0px;padding-left:0.0px;font-size:9.60px;letter-spacing:-0.20px;font-weight:bold;color:#1a1a1a;border-bottom:1px solid #efefef;vertical-align:middle;overflow:visible"><span style="position:relative;left:0.0px">ST<svg width="4" height="8.2" viewBox="0 0 4 8" preserveAspectRatio="none" style="vertical-align:-1.2px;margin-left:3.2px"><path d="M2 0.6V7.4M0.6 2.1L2 0.6L3.4 2.1M0.6 5.9L2 7.4L3.4 5.9" stroke="#a8a8a8" stroke-width="0.9" fill="none"/></svg></span></th></tr><tr style="height:23.5px"><td style="text-align:left;padding-right:-0.3px;padding-left:6.0px;padding-bottom:1.5px;font-size:9.90px;letter-spacing:-0.30px;border-bottom:1px solid #efefef">Kai</td><td style="text-align:right;padding-right:5.7px;padding-left:0.0px;padding-bottom:1.5px;font-size:9.90px;letter-spacing:-0.30px;border-bottom:1px solid #efefef;background:#ffd462">1.90</td><td style="text-align:right;padding-right:5.7px;padding-left:0.0px;padding-bottom:1.5px;font-size:9.90px;letter-spacing:-0.30px;border-bottom:1px solid #efefef">0.00</td><td style="text-align:right;padding-right:5.7px;padding-left:0.0px;padding-bottom:1.5px;font-size:9.90px;letter-spacing:-0.30px;border-bottom:1px solid #efefef"></td><td style="text-align:right;padding-right:5.7px;padding-left:0.0px;padding-bottom:1.5px;font-size:9.90px;letter-spacing:-0.30px;border-bottom:1px solid #efefef"></td><td style="text-align:right;padding-right:5.7px;padding-left:0.0px;padding-bottom:1.5px;font-size:9.90px;letter-spacing:-0.30px;border-bottom:1px solid #efefef"></td><td style="text-align:right;padding-right:5.7px;padding-left:0.0px;padding-bottom:1.5px;font-size:9.90px;letter-spacing:-0.30px;border-bottom:1px solid #efefef;background:#ffdb7c">1.67</td><td style="text-align:right;padding-right:5.7px;padding-left:0.0px;padding-bottom:1.5px;font-size:9.90px;letter-spacing:-0.30px;border-bottom:1px solid #efefef"></td><td style="text-align:right;padding-right:5.7px;padding-left:0.0px;padding-bottom:1.5px;font-size:9.90px;letter-spacing:-0.30px;border-bottom:1px solid #efefef;background:#ffd462">2.45</td></tr><tr style="height:23.5px"><td style="text-align:left;padding-right:-0.3px;padding-left:6.0px;padding-bottom:1.5px;font-size:9.90px;letter-spacing:-0.30px;border-bottom:1px solid #efefef">Leo</td><td style="text-align:right;padding-right:5.7px;padding-left:0.0px;padding-bottom:1.5px;font-size:9.90px;letter-spacing:-0.30px;border-bottom:1px solid #efefef;background:#ffebb5">0.89</td><td style="text-align:right;padding-right:5.7px;padding-left:0.0px;padding-bottom:1.5px;font-size:9.90px;letter-spacing:-0.30px;border-bottom:1px solid #efefef">0.00</td><td style="text-align:right;padding-right:5.7px;padding-left:0.0px;padding-bottom:1.5px;font-size:9.90px;letter-spacing:-0.30px;border-bottom:1px solid #efefef">0.00</td><td style="text-align:right;padding-right:5.7px;padding-left:0.0px;padding-bottom:1.5px;font-size:9.90px;letter-spacing:-0.30px;border-bottom:1px solid #efefef;background:#fffaec">0.24</td><td style="text-align:right;padding-right:5.7px;padding-left:0.0px;padding-bottom:1.5px;font-size:9.90px;letter-spacing:-0.30px;border-bottom:1px solid #efefef"></td><td style="text-align:right;padding-right:5.7px;padding-left:0.0px;padding-bottom:1.5px;font-size:9.90px;letter-spacing:-0.30px;border-bottom:1px solid #efefef;background:#ffd462">2.00</td><td style="text-align:right;padding-right:5.7px;padding-left:0.0px;padding-bottom:1.5px;font-size:9.90px;letter-spacing:-0.30px;border-bottom:1px solid #efefef;background:#ffd462">1.15</td><td style="text-align:right;padding-right:5.7px;padding-left:0.0px;padding-bottom:1.5px;font-size:9.90px;letter-spacing:-0.30px;border-bottom:1px solid #efefef;background:#ffe6a5">1.41</td></tr><tr style="height:23.5px"><td style="text-align:left;padding-right:-0.3px;padding-left:6.0px;padding-bottom:1.5px;font-size:9.90px;letter-spacing:-0.30px;border-bottom:1px solid #efefef">Jamie</td><td style="text-align:right;padding-right:5.7px;padding-left:0.0px;padding-bottom:1.5px;font-size:9.90px;letter-spacing:-0.30px;border-bottom:1px solid #efefef;background:#ffeec2">0.74</td><td style="text-align:right;padding-right:5.7px;padding-left:0.0px;padding-bottom:1.5px;font-size:9.90px;letter-spacing:-0.30px;border-bottom:1px solid #efefef">0.00</td><td style="text-align:right;padding-right:5.7px;padding-left:0.0px;padding-bottom:1.5px;font-size:9.90px;letter-spacing:-0.30px;border-bottom:1px solid #efefef"></td><td style="text-align:right;padding-right:5.7px;padding-left:0.0px;padding-bottom:1.5px;font-size:9.90px;letter-spacing:-0.30px;border-bottom:1px solid #efefef"></td><td style="text-align:right;padding-right:5.7px;padding-left:0.0px;padding-bottom:1.5px;font-size:9.90px;letter-spacing:-0.30px;border-bottom:1px solid #efefef"></td><td style="text-align:right;padding-right:5.7px;padding-left:0.0px;padding-bottom:1.5px;font-size:9.90px;letter-spacing:-0.30px;border-bottom:1px solid #efefef;background:#fff9e9">0.28</td><td style="text-align:right;padding-right:5.7px;padding-left:0.0px;padding-bottom:1.5px;font-size:9.90px;letter-spacing:-0.30px;border-bottom:1px solid #efefef;background:#ffe6a4">0.67</td><td style="text-align:right;padding-right:5.7px;padding-left:0.0px;padding-bottom:1.5px;font-size:9.90px;letter-spacing:-0.30px;border-bottom:1px solid #efefef;background:#ffe293">1.68</td></tr><tr style="height:23.5px"><td style="text-align:left;padding-right:-0.3px;padding-left:6.0px;padding-bottom:1.5px;font-size:9.90px;letter-spacing:-0.30px;border-bottom:1px solid #efefef">Lucas</td><td style="text-align:right;padding-right:5.7px;padding-left:0.0px;padding-bottom:1.5px;font-size:9.90px;letter-spacing:-0.30px;border-bottom:1px solid #efefef;background:#fff0c7">0.68</td><td style="text-align:right;padding-right:5.7px;padding-left:0.0px;padding-bottom:1.5px;font-size:9.90px;letter-spacing:-0.30px;border-bottom:1px solid #efefef">0.00</td><td style="text-align:right;padding-right:5.7px;padding-left:0.0px;padding-bottom:1.5px;font-size:9.90px;letter-spacing:-0.30px;border-bottom:1px solid #efefef"></td><td style="text-align:right;padding-right:5.7px;padding-left:0.0px;padding-bottom:1.5px;font-size:9.90px;letter-spacing:-0.30px;border-bottom:1px solid #efefef"></td><td style="text-align:right;padding-right:5.7px;padding-left:0.0px;padding-bottom:1.5px;font-size:9.90px;letter-spacing:-0.30px;border-bottom:1px solid #efefef"></td><td style="text-align:right;padding-right:5.7px;padding-left:0.0px;padding-bottom:1.5px;font-size:9.90px;letter-spacing:-0.30px;border-bottom:1px solid #efefef;background:#ffe8ac">1.06</td><td style="text-align:right;padding-right:5.7px;padding-left:0.0px;padding-bottom:1.5px;font-size:9.90px;letter-spacing:-0.30px;border-bottom:1px solid #efefef;background:#ffe7a8">0.64</td><td style="text-align:right;padding-right:5.7px;padding-left:0.0px;padding-bottom:1.5px;font-size:9.90px;letter-spacing:-0.30px;border-bottom:1px solid #efefef;background:#fff2d0">0.73</td></tr><tr style="height:23.5px"><td style="text-align:left;padding-right:-0.3px;padding-left:6.0px;padding-bottom:1.5px;font-size:9.90px;letter-spacing:-0.30px;border-bottom:1px solid #efefef">Adam</td><td style="text-align:right;padding-right:5.7px;padding-left:0.0px;padding-bottom:1.5px;font-size:9.90px;letter-spacing:-0.30px;border-bottom:1px solid #efefef;background:#fff3d3">0.53</td><td style="text-align:right;padding-right:5.7px;padding-left:0.0px;padding-bottom:1.5px;font-size:9.90px;letter-spacing:-0.30px;border-bottom:1px solid #efefef"></td><td style="text-align:right;padding-right:5.7px;padding-left:0.0px;padding-bottom:1.5px;font-size:9.90px;letter-spacing:-0.30px;border-bottom:1px solid #efefef"></td><td style="text-align:right;padding-right:5.7px;padding-left:0.0px;padding-bottom:1.5px;font-size:9.90px;letter-spacing:-0.30px;border-bottom:1px solid #efefef;background:#fff9e9">0.28</td><td style="text-align:right;padding-right:5.7px;padding-left:0.0px;padding-bottom:1.5px;font-size:9.90px;letter-spacing:-0.30px;border-bottom:1px solid #efefef">0.00</td><td style="text-align:right;padding-right:5.7px;padding-left:0.0px;padding-bottom:1.5px;font-size:9.90px;letter-spacing:-0.30px;border-bottom:1px solid #efefef">0.00</td><td style="text-align:right;padding-right:5.7px;padding-left:0.0px;padding-bottom:1.5px;font-size:9.90px;letter-spacing:-0.30px;border-bottom:1px solid #efefef">0.00</td><td style="text-align:right;padding-right:5.7px;padding-left:0.0px;padding-bottom:1.5px;font-size:9.90px;letter-spacing:-0.30px;border-bottom:1px solid #efefef;background:#ffe191">1.71</td></tr><tr style="height:23.5px"><td style="text-align:left;padding-right:-0.3px;padding-left:6.0px;padding-bottom:1.5px;font-size:9.90px;letter-spacing:-0.30px;border-bottom:1px solid #efefef">Ethan</td><td style="text-align:right;padding-right:5.7px;padding-left:0.0px;padding-bottom:1.5px;font-size:9.90px;letter-spacing:-0.30px;border-bottom:1px solid #efefef;background:#fff7e0">0.37</td><td style="text-align:right;padding-right:5.7px;padding-left:0.0px;padding-bottom:1.5px;font-size:9.90px;letter-spacing:-0.30px;border-bottom:1px solid #efefef">0.00</td><td style="text-align:right;padding-right:5.7px;padding-left:0.0px;padding-bottom:1.5px;font-size:9.90px;letter-spacing:-0.30px;border-bottom:1px solid #efefef"></td><td style="text-align:right;padding-right:5.7px;padding-left:0.0px;padding-bottom:1.5px;font-size:9.90px;letter-spacing:-0.30px;border-bottom:1px solid #efefef;background:#ffd462">2.00</td><td style="text-align:right;padding-right:5.7px;padding-left:0.0px;padding-bottom:1.5px;font-size:9.90px;letter-spacing:-0.30px;border-bottom:1px solid #efefef">0.00</td><td style="text-align:right;padding-right:5.7px;padding-left:0.0px;padding-bottom:1.5px;font-size:9.90px;letter-spacing:-0.30px;border-bottom:1px solid #efefef"></td><td style="text-align:right;padding-right:5.7px;padding-left:0.0px;padding-bottom:1.5px;font-size:9.90px;letter-spacing:-0.30px;border-bottom:1px solid #efefef;background:#fff3d3">0.32</td><td style="text-align:right;padding-right:5.7px;padding-left:0.0px;padding-bottom:1.5px;font-size:9.90px;letter-spacing:-0.30px;border-bottom:1px solid #efefef"></td></tr><tr style="height:23.5px"><td style="text-align:left;padding-right:-0.3px;padding-left:6.0px;padding-bottom:1.5px;font-size:9.90px;letter-spacing:-0.30px;border-bottom:1px solid #efefef">Zaid</td><td style="text-align:right;padding-right:5.7px;padding-left:0.0px;padding-bottom:1.5px;font-size:9.90px;letter-spacing:-0.30px;border-bottom:1px solid #efefef;background:#fffdf9">0.07</td><td style="text-align:right;padding-right:5.7px;padding-left:0.0px;padding-bottom:1.5px;font-size:9.90px;letter-spacing:-0.30px;border-bottom:1px solid #efefef"></td><td style="text-align:right;padding-right:5.7px;padding-left:0.0px;padding-bottom:1.5px;font-size:9.90px;letter-spacing:-0.30px;border-bottom:1px solid #efefef"></td><td style="text-align:right;padding-right:5.7px;padding-left:0.0px;padding-bottom:1.5px;font-size:9.90px;letter-spacing:-0.30px;border-bottom:1px solid #efefef">0.00</td><td style="text-align:right;padding-right:5.7px;padding-left:0.0px;padding-bottom:1.5px;font-size:9.90px;letter-spacing:-0.30px;border-bottom:1px solid #efefef;background:#ffd462">0.26</td><td style="text-align:right;padding-right:5.7px;padding-left:0.0px;padding-bottom:1.5px;font-size:9.90px;letter-spacing:-0.30px;border-bottom:1px solid #efefef"></td><td style="text-align:right;padding-right:5.7px;padding-left:0.0px;padding-bottom:1.5px;font-size:9.90px;letter-spacing:-0.30px;border-bottom:1px solid #efefef"></td><td style="text-align:right;padding-right:5.7px;padding-left:0.0px;padding-bottom:1.5px;font-size:9.90px;letter-spacing:-0.30px;border-bottom:1px solid #efefef"></td></tr><tr style="height:23.5px"><td style="text-align:left;padding-right:-0.3px;padding-left:6.0px;padding-bottom:1.5px;font-size:9.90px;letter-spacing:-0.30px;border-bottom:1px solid #efefef">Finn</td><td style="text-align:right;padding-right:5.7px;padding-left:0.0px;padding-bottom:1.5px;font-size:9.90px;letter-spacing:-0.30px;border-bottom:1px solid #efefef;background:#fffefa">0.06</td><td style="text-align:right;padding-right:5.7px;padding-left:0.0px;padding-bottom:1.5px;font-size:9.90px;letter-spacing:-0.30px;border-bottom:1px solid #efefef"></td><td style="text-align:right;padding-right:5.7px;padding-left:0.0px;padding-bottom:1.5px;font-size:9.90px;letter-spacing:-0.30px;border-bottom:1px solid #efefef">0.00</td><td style="text-align:right;padding-right:5.7px;padding-left:0.0px;padding-bottom:1.5px;font-size:9.90px;letter-spacing:-0.30px;border-bottom:1px solid #efefef">0.00</td><td style="text-align:right;padding-right:5.7px;padding-left:0.0px;padding-bottom:1.5px;font-size:9.90px;letter-spacing:-0.30px;border-bottom:1px solid #efefef"></td><td style="text-align:right;padding-right:5.7px;padding-left:0.0px;padding-bottom:1.5px;font-size:9.90px;letter-spacing:-0.30px;border-bottom:1px solid #efefef;background:#fff7e3">0.36</td><td style="text-align:right;padding-right:5.7px;padding-left:0.0px;padding-bottom:1.5px;font-size:9.90px;letter-spacing:-0.30px;border-bottom:1px solid #efefef">0.00</td><td style="text-align:right;padding-right:5.7px;padding-left:0.0px;padding-bottom:1.5px;font-size:9.90px;letter-spacing:-0.30px;border-bottom:1px solid #efefef"></td></tr><tr style="height:23.5px"><td style="text-align:left;padding-right:-0.3px;padding-left:6.0px;padding-bottom:1.5px;font-size:9.90px;letter-spacing:-0.30px;border-bottom:1px solid #efefef">Max</td><td style="text-align:right;padding-right:5.7px;padding-left:0.0px;padding-bottom:1.5px;font-size:9.90px;letter-spacing:-0.30px;border-bottom:1px solid #efefef;background:#fffefa">0.06</td><td style="text-align:right;padding-right:5.7px;padding-left:0.0px;padding-bottom:1.5px;font-size:9.90px;letter-spacing:-0.30px;border-bottom:1px solid #efefef">0.00</td><td style="text-align:right;padding-right:5.7px;padding-left:0.0px;padding-bottom:1.5px;font-size:9.90px;letter-spacing:-0.30px;border-bottom:1px solid #efefef">0.00</td><td style="text-align:right;padding-right:5.7px;padding-left:0.0px;padding-bottom:1.5px;font-size:9.90px;letter-spacing:-0.30px;border-bottom:1px solid #efefef"></td><td style="text-align:right;padding-right:5.7px;padding-left:0.0px;padding-bottom:1.5px;font-size:9.90px;letter-spacing:-0.30px;border-bottom:1px solid #efefef"></td><td style="text-align:right;padding-right:5.7px;padding-left:0.0px;padding-bottom:1.5px;font-size:9.90px;letter-spacing:-0.30px;border-bottom:1px solid #efefef"></td><td style="text-align:right;padding-right:5.7px;padding-left:0.0px;padding-bottom:1.5px;font-size:9.90px;letter-spacing:-0.30px;border-bottom:1px solid #efefef"></td><td style="text-align:right;padding-right:5.7px;padding-left:0.0px;padding-bottom:1.5px;font-size:9.90px;letter-spacing:-0.30px;border-bottom:1px solid #efefef;background:#fff1cc">0.80</td></tr></table>
</div>
<div class="p" style="left:389.5px;top:321.0px;width:418.8px;height:224.5px">
<div class="ttl" style="left:4.5px;top:6.5px;font-size:13.05px">Contributions By Position</div>
<table style="left:4.5px;top:29.0px;width:414.9px"><colgroup><col style="width:59.50px"><col style="width:51.50px"><col style="width:42.30px"><col style="width:41.40px"><col style="width:51.10px"><col style="width:43.20px"><col style="width:41.70px"><col style="width:44.70px"><col style="width:39.50px"></colgroup><tr style="height:23.2px"><th style="text-align:left;padding-right:0.0px;padding-left:6.0px;font-size:9.60px;letter-spacing:-0.20px;font-weight:bold;color:#1a1a1a;border-bottom:1px solid #efefef;vertical-align:middle;overflow:visible"><span style="position:relative;left:0.0px">Player<svg width="4" height="8.2" viewBox="0 0 4 8" preserveAspectRatio="none" style="vertical-align:-1.2px;margin-left:3.2px"><path d="M2 0.6V7.4M0.6 2.1L2 0.6L3.4 2.1M0.6 5.9L2 7.4L3.4 5.9" stroke="#a8a8a8" stroke-width="0.9" fill="none"/></svg></span></th><th style="text-align:right;padding-right:6.0px;padding-left:0.0px;font-size:9.60px;letter-spacing:-0.20px;font-weight:bold;color:#1a1a1a;border-bottom:1px solid #efefef;vertical-align:middle;overflow:visible"><span style="position:relative;left:0.0px">Total<svg width="4" height="8.2" viewBox="0 0 4 8" preserveAspectRatio="none" style="vertical-align:-1.2px;margin-left:3.2px"><path d="M2 0.6V7.4M0.6 2.1L2 0.6L3.4 2.1M0.6 5.9L2 7.4L3.4 5.9" stroke="#a8a8a8" stroke-width="0.9" fill="none"/></svg></span></th><th style="text-align:right;padding-right:6.0px;padding-left:0.0px;font-size:9.60px;letter-spacing:-0.20px;font-weight:bold;color:#1a1a1a;border-bottom:1px solid #efefef;vertical-align:middle;overflow:visible"><span style="position:relative;left:0.0px">GK<svg width="4" height="8.2" viewBox="0 0 4 8" preserveAspectRatio="none" style="vertical-align:-1.2px;margin-left:3.2px"><path d="M2 0.6V7.4M0.6 2.1L2 0.6L3.4 2.1M0.6 5.9L2 7.4L3.4 5.9" stroke="#a8a8a8" stroke-width="0.9" fill="none"/></svg></span></th><th style="text-align:right;padding-right:6.0px;padding-left:0.0px;font-size:9.60px;letter-spacing:-0.20px;font-weight:bold;color:#1a1a1a;border-bottom:1px solid #efefef;vertical-align:middle;overflow:visible"><span style="position:relative;left:0.0px">CB<svg width="4" height="8.2" viewBox="0 0 4 8" preserveAspectRatio="none" style="vertical-align:-1.2px;margin-left:3.2px"><path d="M2 0.6V7.4M0.6 2.1L2 0.6L3.4 2.1M0.6 5.9L2 7.4L3.4 5.9" stroke="#a8a8a8" stroke-width="0.9" fill="none"/></svg></span></th><th style="text-align:right;padding-right:6.0px;padding-left:0.0px;font-size:9.60px;letter-spacing:-0.20px;font-weight:bold;color:#1a1a1a;border-bottom:1px solid #efefef;vertical-align:middle;overflow:visible"><span style="position:relative;left:0.0px">CDM<svg width="4" height="8.2" viewBox="0 0 4 8" preserveAspectRatio="none" style="vertical-align:-1.2px;margin-left:3.2px"><path d="M2 0.6V7.4M0.6 2.1L2 0.6L3.4 2.1M0.6 5.9L2 7.4L3.4 5.9" stroke="#a8a8a8" stroke-width="0.9" fill="none"/></svg></span></th><th style="text-align:right;padding-right:6.0px;padding-left:0.0px;font-size:9.60px;letter-spacing:-0.20px;font-weight:bold;color:#1a1a1a;border-bottom:1px solid #efefef;vertical-align:middle;overflow:visible"><span style="position:relative;left:0.0px">CM<svg width="4" height="8.2" viewBox="0 0 4 8" preserveAspectRatio="none" style="vertical-align:-1.2px;margin-left:3.2px"><path d="M2 0.6V7.4M0.6 2.1L2 0.6L3.4 2.1M0.6 5.9L2 7.4L3.4 5.9" stroke="#a8a8a8" stroke-width="0.9" fill="none"/></svg></span></th><th style="text-align:right;padding-right:6.0px;padding-left:0.0px;font-size:9.60px;letter-spacing:-0.20px;font-weight:bold;color:#1a1a1a;border-bottom:1px solid #efefef;vertical-align:middle;overflow:visible"><span style="position:relative;left:0.0px">LW<svg width="4" height="8.2" viewBox="0 0 4 8" preserveAspectRatio="none" style="vertical-align:-1.2px;margin-left:3.2px"><path d="M2 0.6V7.4M0.6 2.1L2 0.6L3.4 2.1M0.6 5.9L2 7.4L3.4 5.9" stroke="#a8a8a8" stroke-width="0.9" fill="none"/></svg></span></th><th style="text-align:right;padding-right:6.0px;padding-left:0.0px;font-size:9.60px;letter-spacing:-0.20px;font-weight:bold;color:#1a1a1a;border-bottom:1px solid #efefef;vertical-align:middle;overflow:visible"><span style="position:relative;left:0.0px">RW<svg width="4" height="8.2" viewBox="0 0 4 8" preserveAspectRatio="none" style="vertical-align:-1.2px;margin-left:3.2px"><path d="M2 0.6V7.4M0.6 2.1L2 0.6L3.4 2.1M0.6 5.9L2 7.4L3.4 5.9" stroke="#a8a8a8" stroke-width="0.9" fill="none"/></svg></span></th><th style="text-align:right;padding-right:6.0px;padding-left:0.0px;font-size:9.60px;letter-spacing:-0.20px;font-weight:bold;color:#1a1a1a;border-bottom:1px solid #efefef;vertical-align:middle;overflow:visible"><span style="position:relative;left:0.0px">ST<svg width="4" height="8.2" viewBox="0 0 4 8" preserveAspectRatio="none" style="vertical-align:-1.2px;margin-left:3.2px"><path d="M2 0.6V7.4M0.6 2.1L2 0.6L3.4 2.1M0.6 5.9L2 7.4L3.4 5.9" stroke="#a8a8a8" stroke-width="0.9" fill="none"/></svg></span></th></tr><tr style="height:22.6px"><td style="text-align:left;padding-right:-0.3px;padding-left:6.0px;padding-bottom:1.5px;font-size:9.90px;letter-spacing:-0.30px;border-bottom:1px solid #efefef">Kai</td><td style="text-align:right;padding-right:5.7px;padding-left:0.0px;padding-bottom:1.5px;font-size:9.90px;letter-spacing:-0.30px;border-bottom:1px solid #efefef;background:#57bb8a">31</td><td style="text-align:right;padding-right:5.7px;padding-left:0.0px;padding-bottom:1.5px;font-size:9.90px;letter-spacing:-0.30px;border-bottom:1px solid #efefef"></td><td style="text-align:right;padding-right:5.7px;padding-left:0.0px;padding-bottom:1.5px;font-size:9.90px;letter-spacing:-0.30px;border-bottom:1px solid #efefef"></td><td style="text-align:right;padding-right:5.7px;padding-left:0.0px;padding-bottom:1.5px;font-size:9.90px;letter-spacing:-0.30px;border-bottom:1px solid #efefef"></td><td style="text-align:right;padding-right:5.7px;padding-left:0.0px;padding-bottom:1.5px;font-size:9.90px;letter-spacing:-0.30px;border-bottom:1px solid #efefef"></td><td style="text-align:right;padding-right:5.7px;padding-left:0.0px;padding-bottom:1.5px;font-size:9.90px;letter-spacing:-0.30px;border-bottom:1px solid #efefef;background:#57bb8a">15</td><td style="text-align:right;padding-right:5.7px;padding-left:0.0px;padding-bottom:1.5px;font-size:9.90px;letter-spacing:-0.30px;border-bottom:1px solid #efefef"></td><td style="text-align:right;padding-right:5.7px;padding-left:0.0px;padding-bottom:1.5px;font-size:9.90px;letter-spacing:-0.30px;border-bottom:1px solid #efefef;background:#57bb8a">16</td></tr><tr style="height:22.6px"><td style="text-align:left;padding-right:-0.3px;padding-left:6.0px;padding-bottom:1.5px;font-size:9.90px;letter-spacing:-0.30px;border-bottom:1px solid #efefef">Jamie</td><td style="text-align:right;padding-right:5.7px;padding-left:0.0px;padding-bottom:1.5px;font-size:9.90px;letter-spacing:-0.30px;border-bottom:1px solid #efefef;background:#9dd8bb">18</td><td style="text-align:right;padding-right:5.7px;padding-left:0.0px;padding-bottom:1.5px;font-size:9.90px;letter-spacing:-0.30px;border-bottom:1px solid #efefef;background:#57bb8a">1</td><td style="text-align:right;padding-right:5.7px;padding-left:0.0px;padding-bottom:1.5px;font-size:9.90px;letter-spacing:-0.30px;border-bottom:1px solid #efefef"></td><td style="text-align:right;padding-right:5.7px;padding-left:0.0px;padding-bottom:1.5px;font-size:9.90px;letter-spacing:-0.30px;border-bottom:1px solid #efefef"></td><td style="text-align:right;padding-right:5.7px;padding-left:0.0px;padding-bottom:1.5px;font-size:9.90px;letter-spacing:-0.30px;border-bottom:1px solid #efefef"></td><td style="text-align:right;padding-right:5.7px;padding-left:0.0px;padding-bottom:1.5px;font-size:9.90px;letter-spacing:-0.30px;border-bottom:1px solid #efefef;background:#b1dfc8">7</td><td style="text-align:right;padding-right:5.7px;padding-left:0.0px;padding-bottom:1.5px;font-size:9.90px;letter-spacing:-0.30px;border-bottom:1px solid #efefef;background:#eaf6f0">1</td><td style="text-align:right;padding-right:5.7px;padding-left:0.0px;padding-bottom:1.5px;font-size:9.90px;letter-spacing:-0.30px;border-bottom:1px solid #efefef;background:#a0d9bd">9</td></tr><tr style="height:22.6px"><td style="text-align:left;padding-right:-0.3px;padding-left:6.0px;padding-bottom:1.5px;font-size:9.90px;letter-spacing:-0.30px;border-bottom:1px solid #efefef">Leo</td><td style="text-align:right;padding-right:5.7px;padding-left:0.0px;padding-bottom:1.5px;font-size:9.90px;letter-spacing:-0.30px;border-bottom:1px solid #efefef;background:#a3dabf">17</td><td style="text-align:right;padding-right:5.7px;padding-left:0.0px;padding-bottom:1.5px;font-size:9.90px;letter-spacing:-0.30px;border-bottom:1px solid #efefef"></td><td style="text-align:right;padding-right:5.7px;padding-left:0.0px;padding-bottom:1.5px;font-size:9.90px;letter-spacing:-0.30px;border-bottom:1px solid #efefef"></td><td style="text-align:right;padding-right:5.7px;padding-left:0.0px;padding-bottom:1.5px;font-size:9.90px;letter-spacing:-0.30px;border-bottom:1px solid #efefef;background:#d5eee2">1</td><td style="text-align:right;padding-right:5.7px;padding-left:0.0px;padding-bottom:1.5px;font-size:9.90px;letter-spacing:-0.30px;border-bottom:1px solid #efefef"></td><td style="text-align:right;padding-right:5.7px;padding-left:0.0px;padding-bottom:1.5px;font-size:9.90px;letter-spacing:-0.30px;border-bottom:1px solid #efefef;background:#e9f6ef">2</td><td style="text-align:right;padding-right:5.7px;padding-left:0.0px;padding-bottom:1.5px;font-size:9.90px;letter-spacing:-0.30px;border-bottom:1px solid #efefef;background:#57bb8a">8</td><td style="text-align:right;padding-right:5.7px;padding-left:0.0px;padding-bottom:1.5px;font-size:9.90px;letter-spacing:-0.30px;border-bottom:1px solid #efefef;background:#c0e6d3">6</td></tr><tr style="height:22.6px"><td style="text-align:left;padding-right:-0.3px;padding-left:6.0px;padding-bottom:1.5px;font-size:9.90px;letter-spacing:-0.30px;border-bottom:1px solid #efefef"></td><td style="text-align:right;padding-right:5.7px;padding-left:0.0px;padding-bottom:1.5px;font-size:9.90px;letter-spacing:-0.30px;border-bottom:1px solid #efefef;background:#a8dcc3">16</td><td style="text-align:right;padding-right:5.7px;padding-left:0.0px;padding-bottom:1.5px;font-size:9.90px;letter-spacing:-0.30px;border-bottom:1px solid #efefef"></td><td style="text-align:right;padding-right:5.7px;padding-left:0.0px;padding-bottom:1.5px;font-size:9.90px;letter-spacing:-0.30px;border-bottom:1px solid #efefef"></td><td style="text-align:right;padding-right:5.7px;padding-left:0.0px;padding-bottom:1.5px;font-size:9.90px;letter-spacing:-0.30px;border-bottom:1px solid #efefef"></td><td style="text-align:right;padding-right:5.7px;padding-left:0.0px;padding-bottom:1.5px;font-size:9.90px;letter-spacing:-0.30px;border-bottom:1px solid #efefef"></td><td style="text-align:right;padding-right:5.7px;padding-left:0.0px;padding-bottom:1.5px;font-size:9.90px;letter-spacing:-0.30px;border-bottom:1px solid #efefef;background:#e9f6ef">2</td><td style="text-align:right;padding-right:5.7px;padding-left:0.0px;padding-bottom:1.5px;font-size:9.90px;letter-spacing:-0.30px;border-bottom:1px solid #efefef;background:#6cc499">7</td><td style="text-align:right;padding-right:5.7px;padding-left:0.0px;padding-bottom:1.5px;font-size:9.90px;letter-spacing:-0.30px;border-bottom:1px solid #efefef;background:#b6e1cc">7</td></tr><tr style="height:22.6px"><td style="text-align:left;padding-right:-0.3px;padding-left:6.0px;padding-bottom:1.5px;font-size:9.90px;letter-spacing:-0.30px;border-bottom:1px solid #efefef"></td><td style="text-align:right;padding-right:5.7px;padding-left:0.0px;padding-bottom:1.5px;font-size:9.90px;letter-spacing:-0.30px;border-bottom:1px solid #efefef;background:#bee5d2">12</td><td style="text-align:right;padding-right:5.7px;padding-left:0.0px;padding-bottom:1.5px;font-size:9.90px;letter-spacing:-0.30px;border-bottom:1px solid #efefef"></td><td style="text-align:right;padding-right:5.7px;padding-left:0.0px;padding-bottom:1.5px;font-size:9.90px;letter-spacing:-0.30px;border-bottom:1px solid #efefef"></td><td style="text-align:right;padding-right:5.7px;padding-left:0.0px;padding-bottom:1.5px;font-size:9.90px;letter-spacing:-0.30px;border-bottom:1px solid #efefef;background:#81cca7">3</td><td style="text-align:right;padding-right:5.7px;padding-left:0.0px;padding-bottom:1.5px;font-size:9.90px;letter-spacing:-0.30px;border-bottom:1px solid #efefef"></td><td style="text-align:right;padding-right:5.7px;padding-left:0.0px;padding-bottom:1.5px;font-size:9.90px;letter-spacing:-0.30px;border-bottom:1px solid #efefef;background:#e9f6ef">2</td><td style="text-align:right;padding-right:5.7px;padding-left:0.0px;padding-bottom:1.5px;font-size:9.90px;letter-spacing:-0.30px;border-bottom:1px solid #efefef"></td><td style="text-align:right;padding-right:5.7px;padding-left:0.0px;padding-bottom:1.5px;font-size:9.90px;letter-spacing:-0.30px;border-bottom:1px solid #efefef;background:#b6e1cc">7</td></tr><tr style="height:22.6px"><td style="text-align:left;padding-right:-0.3px;padding-left:6.0px;padding-bottom:1.5px;font-size:9.90px;letter-spacing:-0.30px;border-bottom:1px solid #efefef"></td><td style="text-align:right;padding-right:5.7px;padding-left:0.0px;padding-bottom:1.5px;font-size:9.90px;letter-spacing:-0.30px;border-bottom:1px solid #efefef;background:#c9e9d9">10</td><td style="text-align:right;padding-right:5.7px;padding-left:0.0px;padding-bottom:1.5px;font-size:9.90px;letter-spacing:-0.30px;border-bottom:1px solid #efefef"></td><td style="text-align:right;padding-right:5.7px;padding-left:0.0px;padding-bottom:1.5px;font-size:9.90px;letter-spacing:-0.30px;border-bottom:1px solid #efefef"></td><td style="text-align:right;padding-right:5.7px;padding-left:0.0px;padding-bottom:1.5px;font-size:9.90px;letter-spacing:-0.30px;border-bottom:1px solid #efefef;background:#abddc4">2</td><td style="text-align:right;padding-right:5.7px;padding-left:0.0px;padding-bottom:1.5px;font-size:9.90px;letter-spacing:-0.30px;border-bottom:1px solid #efefef;background:#ddf1e8">1</td><td style="text-align:right;padding-right:5.7px;padding-left:0.0px;padding-bottom:1.5px;font-size:9.90px;letter-spacing:-0.30px;border-bottom:1px solid #efefef"></td><td style="text-align:right;padding-right:5.7px;padding-left:0.0px;padding-bottom:1.5px;font-size:9.90px;letter-spacing:-0.30px;border-bottom:1px solid #efefef;background:#6cc499">7</td><td style="text-align:right;padding-right:5.7px;padding-left:0.0px;padding-bottom:1.5px;font-size:9.90px;letter-spacing:-0.30px;border-bottom:1px solid #efefef"></td></tr><tr style="height:22.6px"><td style="text-align:left;padding-right:-0.3px;padding-left:6.0px;padding-bottom:1.5px;font-size:9.90px;letter-spacing:-0.30px;border-bottom:1px solid #efefef"></td><td style="text-align:right;padding-right:5.7px;padding-left:0.0px;padding-bottom:1.5px;font-size:9.90px;letter-spacing:-0.30px;border-bottom:1px solid #efefef;background:#ceebdd">9</td><td style="text-align:right;padding-right:5.7px;padding-left:0.0px;padding-bottom:1.5px;font-size:9.90px;letter-spacing:-0.30px;border-bottom:1px solid #efefef"></td><td style="text-align:right;padding-right:5.7px;padding-left:0.0px;padding-bottom:1.5px;font-size:9.90px;letter-spacing:-0.30px;border-bottom:1px solid #efefef"></td><td style="text-align:right;padding-right:5.7px;padding-left:0.0px;padding-bottom:1.5px;font-size:9.90px;letter-spacing:-0.30px;border-bottom:1px solid #efefef;background:#57bb8a">4</td><td style="text-align:right;padding-right:5.7px;padding-left:0.0px;padding-bottom:1.5px;font-size:9.90px;letter-spacing:-0.30px;border-bottom:1px solid #efefef;background:#57bb8a">5</td><td style="text-align:right;padding-right:5.7px;padding-left:0.0px;padding-bottom:1.5px;font-size:9.90px;letter-spacing:-0.30px;border-bottom:1px solid #efefef"></td><td style="text-align:right;padding-right:5.7px;padding-left:0.0px;padding-bottom:1.5px;font-size:9.90px;letter-spacing:-0.30px;border-bottom:1px solid #efefef"></td><td style="text-align:right;padding-right:5.7px;padding-left:0.0px;padding-bottom:1.5px;font-size:9.90px;letter-spacing:-0.30px;border-bottom:1px solid #efefef"></td></tr><tr style="height:22.6px"><td style="text-align:left;padding-right:-0.3px;padding-left:6.0px;padding-bottom:1.5px;font-size:9.90px;letter-spacing:-0.30px;border-bottom:1px solid #efefef"></td><td style="text-align:right;padding-right:5.7px;padding-left:0.0px;padding-bottom:1.5px;font-size:9.90px;letter-spacing:-0.30px;border-bottom:1px solid #efefef;background:#def2e8">6</td><td style="text-align:right;padding-right:5.7px;padding-left:0.0px;padding-bottom:1.5px;font-size:9.90px;letter-spacing:-0.30px;border-bottom:1px solid #efefef"></td><td style="text-align:right;padding-right:5.7px;padding-left:0.0px;padding-bottom:1.5px;font-size:9.90px;letter-spacing:-0.30px;border-bottom:1px solid #efefef"></td><td style="text-align:right;padding-right:5.7px;padding-left:0.0px;padding-bottom:1.5px;font-size:9.90px;letter-spacing:-0.30px;border-bottom:1px solid #efefef;background:#abddc4">2</td><td style="text-align:right;padding-right:5.7px;padding-left:0.0px;padding-bottom:1.5px;font-size:9.90px;letter-spacing:-0.30px;border-bottom:1px solid #efefef"></td><td style="text-align:right;padding-right:5.7px;padding-left:0.0px;padding-bottom:1.5px;font-size:9.90px;letter-spacing:-0.30px;border-bottom:1px solid #efefef;background:#ddf1e8">3</td><td style="text-align:right;padding-right:5.7px;padding-left:0.0px;padding-bottom:1.5px;font-size:9.90px;letter-spacing:-0.30px;border-bottom:1px solid #efefef;background:#eaf6f0">1</td><td style="text-align:right;padding-right:5.7px;padding-left:0.0px;padding-bottom:1.5px;font-size:9.90px;letter-spacing:-0.30px;border-bottom:1px solid #efefef"></td></tr></table>
</div>
<div class="p sm" style="left:0;top:442.0px;width:426.7px;height:240.0px">
<div class="ttl" style="left:4px;top:5.0px;font-size:11.2px;-webkit-text-stroke:0.2px">Goals / Assists by Position</div>
<div class="a" style="left:6px;top:27.0px;width:8.5px;height:8.5px;border:1px solid #777;border-radius:2px"></div>
<div class="a" style="left:20.5px;top:26.0px;font-size:7.4px;color:#333">Combined positions</div>
<table style="left:4.0px;top:42.0px;width:418.0px"><colgroup><col style="width:53.00px"><col style="width:51.90px"><col style="width:52.10px"><col style="width:51.20px"><col style="width:52.40px"><col style="width:53.60px"><col style="width:51.10px"><col style="width:52.70px"></colgroup><tr style="height:20.3px"><th style="text-align:left;padding-right:0.0px;padding-left:5.0px;font-size:7.80px;letter-spacing:-0.20px;font-weight:bold;color:#1a1a1a;border-bottom:1px solid #efefef;vertical-align:middle;overflow:visible"><span style="position:relative;left:0.0px">Position<svg width="4" height="6.6" viewBox="0 0 4 8" preserveAspectRatio="none" style="vertical-align:-0.9px;margin-left:2.6px"><path d="M2 0.6V7.4M0.6 2.1L2 0.6L3.4 2.1M0.6 5.9L2 7.4L3.4 5.9" stroke="#a8a8a8" stroke-width="0.9" fill="none"/></svg></span></th><th style="text-align:center;padding-right:0.0px;padding-left:0.0px;font-size:7.80px;letter-spacing:-0.20px;font-weight:bold;color:#1a1a1a;border-bottom:1px solid #efefef;vertical-align:middle;overflow:visible"><span style="position:relative;left:0.0px">Mins<svg width="4" height="6.6" viewBox="0 0 4 8" preserveAspectRatio="none" style="vertical-align:-0.9px;margin-left:2.6px"><path d="M2 0.6V7.4M0.6 2.1L2 0.6L3.4 2.1M0.6 5.9L2 7.4L3.4 5.9" stroke="#a8a8a8" stroke-width="0.9" fill="none"/></svg></span></th><th style="text-align:center;padding-right:0.0px;padding-left:0.0px;font-size:7.80px;letter-spacing:-0.20px;font-weight:bold;color:#1a1a1a;border-bottom:1px solid #efefef;vertical-align:middle;overflow:visible"><span style="position:relative;left:0.0px">Goals<svg width="4" height="6.6" viewBox="0 0 4 8" preserveAspectRatio="none" style="vertical-align:-0.9px;margin-left:2.6px"><path d="M2 0.6V7.4M0.6 2.1L2 0.6L3.4 2.1M0.6 5.9L2 7.4L3.4 5.9" stroke="#a8a8a8" stroke-width="0.9" fill="none"/></svg></span></th><th style="text-align:center;padding-right:0.0px;padding-left:0.0px;font-size:7.80px;letter-spacing:-0.20px;font-weight:bold;color:#1a1a1a;border-bottom:1px solid #efefef;vertical-align:middle;overflow:visible"><span style="position:relative;left:0.0px">Assists<svg width="4" height="6.6" viewBox="0 0 4 8" preserveAspectRatio="none" style="vertical-align:-0.9px;margin-left:2.6px"><path d="M2 0.6V7.4M0.6 2.1L2 0.6L3.4 2.1M0.6 5.9L2 7.4L3.4 5.9" stroke="#a8a8a8" stroke-width="0.9" fill="none"/></svg></span></th><th style="text-align:center;padding-right:0.0px;padding-left:0.0px;font-size:7.80px;letter-spacing:-0.20px;font-weight:bold;color:#1a1a1a;border-bottom:1px solid #efefef;vertical-align:middle;overflow:visible"><span style="position:relative;left:0.0px">G+A<svg width="4" height="6.6" viewBox="0 0 4 8" preserveAspectRatio="none" style="vertical-align:-0.9px;margin-left:2.6px"><path d="M2 0.6V7.4M0.6 2.1L2 0.6L3.4 2.1M0.6 5.9L2 7.4L3.4 5.9" stroke="#a8a8a8" stroke-width="0.9" fill="none"/></svg></span></th><th style="text-align:center;padding-right:0.0px;padding-left:0.0px;font-size:7.80px;letter-spacing:-0.20px;font-weight:bold;color:#1a1a1a;border-bottom:1px solid #efefef;vertical-align:middle;overflow:visible"><span style="position:relative;left:0.0px">G / 50<svg width="4" height="6.6" viewBox="0 0 4 8" preserveAspectRatio="none" style="vertical-align:-0.9px;margin-left:2.6px"><path d="M2 0.6V7.4M0.6 2.1L2 0.6L3.4 2.1M0.6 5.9L2 7.4L3.4 5.9" stroke="#a8a8a8" stroke-width="0.9" fill="none"/></svg></span></th><th style="text-align:center;padding-right:0.0px;padding-left:0.0px;font-size:7.80px;letter-spacing:-0.20px;font-weight:bold;color:#1a1a1a;border-bottom:1px solid #efefef;vertical-align:middle;overflow:visible"><span style="position:relative;left:0.0px">A / 50<svg width="4" height="6.6" viewBox="0 0 4 8" preserveAspectRatio="none" style="vertical-align:-0.9px;margin-left:2.6px"><path d="M2 0.6V7.4M0.6 2.1L2 0.6L3.4 2.1M0.6 5.9L2 7.4L3.4 5.9" stroke="#a8a8a8" stroke-width="0.9" fill="none"/></svg></span></th><th style="text-align:center;padding-right:0.0px;padding-left:0.0px;font-size:7.80px;letter-spacing:-0.20px;font-weight:bold;color:#1a1a1a;border-bottom:1px solid #efefef;vertical-align:middle;overflow:visible"><span style="position:relative;left:0.0px">G+A / 50<svg width="4" height="6.6" viewBox="0 0 4 8" preserveAspectRatio="none" style="vertical-align:-0.9px;margin-left:2.6px"><path d="M2 0.6V7.4M0.6 2.1L2 0.6L3.4 2.1M0.6 5.9L2 7.4L3.4 5.9" stroke="#a8a8a8" stroke-width="0.9" fill="none"/></svg></span></th></tr><tr style="height:19.4px"><td style="text-align:left;padding-right:-0.1px;padding-left:5.0px;padding-bottom:1.2px;font-size:7.90px;letter-spacing:-0.05px;border-bottom:1px solid #efefef">GK</td><td style="text-align:center;padding-right:-0.1px;padding-left:0.0px;padding-bottom:1.2px;font-size:7.90px;letter-spacing:-0.05px;border-bottom:1px solid #efefef">1200</td><td style="text-align:center;padding-right:-0.1px;padding-left:0.0px;padding-bottom:1.2px;font-size:7.90px;letter-spacing:-0.05px;border-bottom:1px solid #efefef">0</td><td style="text-align:center;padding-right:-0.1px;padding-left:0.0px;padding-bottom:1.2px;font-size:7.90px;letter-spacing:-0.05px;border-bottom:1px solid #efefef;background:#f2faf6"><u>1</u></td><td style="text-align:center;padding-right:-0.1px;padding-left:0.0px;padding-bottom:1.2px;font-size:7.90px;letter-spacing:-0.05px;border-bottom:1px solid #efefef;background:#fbfdfc">1</td><td style="text-align:center;padding-right:-0.1px;padding-left:0.0px;padding-bottom:1.2px;font-size:7.90px;letter-spacing:-0.05px;border-bottom:1px solid #efefef">0.00</td><td style="text-align:center;padding-right:-0.1px;padding-left:0.0px;padding-bottom:1.2px;font-size:7.90px;letter-spacing:-0.05px;border-bottom:1px solid #efefef;background:#f6fbf8">0.04</td><td style="text-align:center;padding-right:-0.1px;padding-left:0.0px;padding-bottom:1.2px;font-size:7.90px;letter-spacing:-0.05px;border-bottom:1px solid #efefef;background:#fcfefd">0.04</td></tr><tr style="height:19.4px"><td style="text-align:left;padding-right:-0.1px;padding-left:5.0px;padding-bottom:1.2px;font-size:7.90px;letter-spacing:-0.05px;border-bottom:1px solid #efefef">LCB</td><td style="text-align:center;padding-right:-0.1px;padding-left:0.0px;padding-bottom:1.2px;font-size:7.90px;letter-spacing:-0.05px;border-bottom:1px solid #efefef">350</td><td style="text-align:center;padding-right:-0.1px;padding-left:0.0px;padding-bottom:1.2px;font-size:7.90px;letter-spacing:-0.05px;border-bottom:1px solid #efefef">0</td><td style="text-align:center;padding-right:-0.1px;padding-left:0.0px;padding-bottom:1.2px;font-size:7.90px;letter-spacing:-0.05px;border-bottom:1px solid #efefef;background:#e5f5ed"><u>2</u></td><td style="text-align:center;padding-right:-0.1px;padding-left:0.0px;padding-bottom:1.2px;font-size:7.90px;letter-spacing:-0.05px;border-bottom:1px solid #efefef;background:#f6fcf9">2</td><td style="text-align:center;padding-right:-0.1px;padding-left:0.0px;padding-bottom:1.2px;font-size:7.90px;letter-spacing:-0.05px;border-bottom:1px solid #efefef">0.00</td><td style="text-align:center;padding-right:-0.1px;padding-left:0.0px;padding-bottom:1.2px;font-size:7.90px;letter-spacing:-0.05px;border-bottom:1px solid #efefef;background:#bae3cf">0.29</td><td style="text-align:center;padding-right:-0.1px;padding-left:0.0px;padding-bottom:1.2px;font-size:7.90px;letter-spacing:-0.05px;border-bottom:1px solid #efefef;background:#e6f5ee">0.29</td></tr><tr style="height:19.4px"><td style="text-align:left;padding-right:-0.1px;padding-left:5.0px;padding-bottom:1.2px;font-size:7.90px;letter-spacing:-0.05px;border-bottom:1px solid #efefef">LDM</td><td style="text-align:center;padding-right:-0.1px;padding-left:0.0px;padding-bottom:1.2px;font-size:7.90px;letter-spacing:-0.05px;border-bottom:1px solid #efefef">850</td><td style="text-align:center;padding-right:-0.1px;padding-left:0.0px;padding-bottom:1.2px;font-size:7.90px;letter-spacing:-0.05px;border-bottom:1px solid #efefef;background:#f3faf7"><u>2</u></td><td style="text-align:center;padding-right:-0.1px;padding-left:0.0px;padding-bottom:1.2px;font-size:7.90px;letter-spacing:-0.05px;border-bottom:1px solid #efefef;background:#8bd0ae"><u>9</u></td><td style="text-align:center;padding-right:-0.1px;padding-left:0.0px;padding-bottom:1.2px;font-size:7.90px;letter-spacing:-0.05px;border-bottom:1px solid #efefef;background:#d0ecde">11</td><td style="text-align:center;padding-right:-0.1px;padding-left:0.0px;padding-bottom:1.2px;font-size:7.90px;letter-spacing:-0.05px;border-bottom:1px solid #efefef;background:#f2faf6">0.12</td><td style="text-align:center;padding-right:-0.1px;padding-left:0.0px;padding-bottom:1.2px;font-size:7.90px;letter-spacing:-0.05px;border-bottom:1px solid #efefef;background:#82cca8">0.53</td><td style="text-align:center;padding-right:-0.1px;padding-left:0.0px;padding-bottom:1.2px;font-size:7.90px;letter-spacing:-0.05px;border-bottom:1px solid #efefef;background:#c7e8d8">0.65</td></tr><tr style="height:19.4px"><td style="text-align:left;padding-right:-0.1px;padding-left:5.0px;padding-bottom:1.2px;font-size:7.90px;letter-spacing:-0.05px;border-bottom:1px solid #efefef">RDM</td><td style="text-align:center;padding-right:-0.1px;padding-left:0.0px;padding-bottom:1.2px;font-size:7.90px;letter-spacing:-0.05px;border-bottom:1px solid #efefef">850</td><td style="text-align:center;padding-right:-0.1px;padding-left:0.0px;padding-bottom:1.2px;font-size:7.90px;letter-spacing:-0.05px;border-bottom:1px solid #efefef;background:#eef8f3"><u>3</u></td><td style="text-align:center;padding-right:-0.1px;padding-left:0.0px;padding-bottom:1.2px;font-size:7.90px;letter-spacing:-0.05px;border-bottom:1px solid #efefef;background:#e5f5ed"><u>2</u></td><td style="text-align:center;padding-right:-0.1px;padding-left:0.0px;padding-bottom:1.2px;font-size:7.90px;letter-spacing:-0.05px;border-bottom:1px solid #efefef;background:#e9f6f0">5</td><td style="text-align:center;padding-right:-0.1px;padding-left:0.0px;padding-bottom:1.2px;font-size:7.90px;letter-spacing:-0.05px;border-bottom:1px solid #efefef;background:#ebf7f1">0.18</td><td style="text-align:center;padding-right:-0.1px;padding-left:0.0px;padding-bottom:1.2px;font-size:7.90px;letter-spacing:-0.05px;border-bottom:1px solid #efefef;background:#e3f4eb">0.12</td><td style="text-align:center;padding-right:-0.1px;padding-left:0.0px;padding-bottom:1.2px;font-size:7.90px;letter-spacing:-0.05px;border-bottom:1px solid #efefef;background:#e6f5ee">0.29</td></tr><tr style="height:19.4px"><td style="text-align:left;padding-right:-0.1px;padding-left:5.0px;padding-bottom:1.2px;font-size:7.90px;letter-spacing:-0.05px;border-bottom:1px solid #efefef">CM</td><td style="text-align:center;padding-right:-0.1px;padding-left:0.0px;padding-bottom:1.2px;font-size:7.90px;letter-spacing:-0.05px;border-bottom:1px solid #efefef">350</td><td style="text-align:center;padding-right:-0.1px;padding-left:0.0px;padding-bottom:1.2px;font-size:7.90px;letter-spacing:-0.05px;border-bottom:1px solid #efefef;background:#f9fdfb"><u>1</u></td><td style="text-align:center;padding-right:-0.1px;padding-left:0.0px;padding-bottom:1.2px;font-size:7.90px;letter-spacing:-0.05px;border-bottom:1px solid #efefef;background:#bee5d2"><u>5</u></td><td style="text-align:center;padding-right:-0.1px;padding-left:0.0px;padding-bottom:1.2px;font-size:7.90px;letter-spacing:-0.05px;border-bottom:1px solid #efefef;background:#e5f5ed">6</td><td style="text-align:center;padding-right:-0.1px;padding-left:0.0px;padding-bottom:1.2px;font-size:7.90px;letter-spacing:-0.05px;border-bottom:1px solid #efefef;background:#eff9f4">0.14</td><td style="text-align:center;padding-right:-0.1px;padding-left:0.0px;padding-bottom:1.2px;font-size:7.90px;letter-spacing:-0.05px;border-bottom:1px solid #efefef;background:#57bb8a">0.71</td><td style="text-align:center;padding-right:-0.1px;padding-left:0.0px;padding-bottom:1.2px;font-size:7.90px;letter-spacing:-0.05px;border-bottom:1px solid #efefef;background:#b5e1cb">0.86</td></tr><tr style="height:19.4px"><td style="text-align:left;padding-right:-0.1px;padding-left:5.0px;padding-bottom:1.2px;font-size:7.90px;letter-spacing:-0.05px;border-bottom:1px solid #efefef">LW</td><td style="text-align:center;padding-right:-0.1px;padding-left:0.0px;padding-bottom:1.2px;font-size:7.90px;letter-spacing:-0.05px;border-bottom:1px solid #efefef">1200</td><td style="text-align:center;padding-right:-0.1px;padding-left:0.0px;padding-bottom:1.2px;font-size:7.90px;letter-spacing:-0.05px;border-bottom:1px solid #efefef;background:#8bd0ae"><u>20</u></td><td style="text-align:center;padding-right:-0.1px;padding-left:0.0px;padding-bottom:1.2px;font-size:7.90px;letter-spacing:-0.05px;border-bottom:1px solid #efefef;background:#57bb8a"><u>13</u></td><td style="text-align:center;padding-right:-0.1px;padding-left:0.0px;padding-bottom:1.2px;font-size:7.90px;letter-spacing:-0.05px;border-bottom:1px solid #efefef;background:#71c59c">33</td><td style="text-align:center;padding-right:-0.1px;padding-left:0.0px;padding-bottom:1.2px;font-size:7.90px;letter-spacing:-0.05px;border-bottom:1px solid #efefef;background:#a2d9be">0.83</td><td style="text-align:center;padding-right:-0.1px;padding-left:0.0px;padding-bottom:1.2px;font-size:7.90px;letter-spacing:-0.05px;border-bottom:1px solid #efefef;background:#7fcba6">0.54</td><td style="text-align:center;padding-right:-0.1px;padding-left:0.0px;padding-bottom:1.2px;font-size:7.90px;letter-spacing:-0.05px;border-bottom:1px solid #efefef;background:#88cfac">1.38</td></tr><tr style="height:19.4px"><td style="text-align:left;padding-right:-0.1px;padding-left:5.0px;padding-bottom:1.2px;font-size:7.90px;letter-spacing:-0.05px;border-bottom:1px solid #efefef">RW</td><td style="text-align:center;padding-right:-0.1px;padding-left:0.0px;padding-bottom:1.2px;font-size:7.90px;letter-spacing:-0.05px;border-bottom:1px solid #efefef">1200</td><td style="text-align:center;padding-right:-0.1px;padding-left:0.0px;padding-bottom:1.2px;font-size:7.90px;letter-spacing:-0.05px;border-bottom:1px solid #efefef;background:#bfe5d3"><u>11</u></td><td style="text-align:center;padding-right:-0.1px;padding-left:0.0px;padding-bottom:1.2px;font-size:7.90px;letter-spacing:-0.05px;border-bottom:1px solid #efefef;background:#57bb8a"><u>13</u></td><td style="text-align:center;padding-right:-0.1px;padding-left:0.0px;padding-bottom:1.2px;font-size:7.90px;letter-spacing:-0.05px;border-bottom:1px solid #efefef;background:#98d5b7">24</td><td style="text-align:center;padding-right:-0.1px;padding-left:0.0px;padding-bottom:1.2px;font-size:7.90px;letter-spacing:-0.05px;border-bottom:1px solid #efefef;background:#cbeadb">0.46</td><td style="text-align:center;padding-right:-0.1px;padding-left:0.0px;padding-bottom:1.2px;font-size:7.90px;letter-spacing:-0.05px;border-bottom:1px solid #efefef;background:#7fcba6">0.54</td><td style="text-align:center;padding-right:-0.1px;padding-left:0.0px;padding-bottom:1.2px;font-size:7.90px;letter-spacing:-0.05px;border-bottom:1px solid #efefef;background:#a9dcc3">1.00</td></tr><tr style="height:19.4px"><td style="text-align:left;padding-right:-0.1px;padding-left:5.0px;padding-bottom:1.2px;font-size:7.90px;letter-spacing:-0.05px;border-bottom:1px solid #efefef">ST</td><td style="text-align:center;padding-right:-0.1px;padding-left:0.0px;padding-bottom:1.2px;font-size:7.90px;letter-spacing:-0.05px;border-bottom:1px solid #efefef">1000</td><td style="text-align:center;padding-right:-0.1px;padding-left:0.0px;padding-bottom:1.2px;font-size:7.90px;letter-spacing:-0.05px;border-bottom:1px solid #efefef;background:#57bb8a"><u>29</u></td><td style="text-align:center;padding-right:-0.1px;padding-left:0.0px;padding-bottom:1.2px;font-size:7.90px;letter-spacing:-0.05px;border-bottom:1px solid #efefef;background:#7ecba5"><u>10</u></td><td style="text-align:center;padding-right:-0.1px;padding-left:0.0px;padding-bottom:1.2px;font-size:7.90px;letter-spacing:-0.05px;border-bottom:1px solid #efefef;background:#57bb8a">39</td><td style="text-align:center;padding-right:-0.1px;padding-left:0.0px;padding-bottom:1.2px;font-size:7.90px;letter-spacing:-0.05px;border-bottom:1px solid #efefef;background:#5dbd8e">1.45</td><td style="text-align:center;padding-right:-0.1px;padding-left:0.0px;padding-bottom:1.2px;font-size:7.90px;letter-spacing:-0.05px;border-bottom:1px solid #efefef;background:#89cfad">0.50</td><td style="text-align:center;padding-right:-0.1px;padding-left:0.0px;padding-bottom:1.2px;font-size:7.90px;letter-spacing:-0.05px;border-bottom:1px solid #efefef;background:#57bb8a">1.95</td></tr><tr style="height:19.4px"><td style="text-align:left;padding-right:-0.1px;padding-left:5.0px;padding-bottom:1.2px;font-size:7.90px;letter-spacing:-0.05px;border-bottom:1px solid #efefef">F9</td><td style="text-align:center;padding-right:-0.1px;padding-left:0.0px;padding-bottom:1.2px;font-size:7.90px;letter-spacing:-0.05px;border-bottom:1px solid #efefef">200</td><td style="text-align:center;padding-right:-0.1px;padding-left:0.0px;padding-bottom:1.2px;font-size:7.90px;letter-spacing:-0.05px;border-bottom:1px solid #efefef;background:#dcf1e7"><u>6</u></td><td style="text-align:center;padding-right:-0.1px;padding-left:0.0px;padding-bottom:1.2px;font-size:7.90px;letter-spacing:-0.05px;border-bottom:1px solid #efefef;background:#f2faf6"><u>1</u></td><td style="text-align:center;padding-right:-0.1px;padding-left:0.0px;padding-bottom:1.2px;font-size:7.90px;letter-spacing:-0.05px;border-bottom:1px solid #efefef;background:#e1f3ea">7</td><td style="text-align:center;padding-right:-0.1px;padding-left:0.0px;padding-bottom:1.2px;font-size:7.90px;letter-spacing:-0.05px;border-bottom:1px solid #efefef;background:#57bb8a">1.50</td><td style="text-align:center;padding-right:-0.1px;padding-left:0.0px;padding-bottom:1.2px;font-size:7.90px;letter-spacing:-0.05px;border-bottom:1px solid #efefef;background:#c4e7d6">0.25</td><td style="text-align:center;padding-right:-0.1px;padding-left:0.0px;padding-bottom:1.2px;font-size:7.90px;letter-spacing:-0.05px;border-bottom:1px solid #efefef;background:#68c296">1.75</td></tr><tr style="height:19.4px"><td style="text-align:left;padding-right:-0.1px;padding-left:5.0px;padding-bottom:1.2px;font-size:7.90px;letter-spacing:-0.05px;border-bottom:1px solid #efefef">CDM</td><td style="text-align:center;padding-right:-0.1px;padding-left:0.0px;padding-bottom:1.2px;font-size:7.90px;letter-spacing:-0.05px;border-bottom:1px solid #efefef"></td><td style="text-align:center;padding-right:-0.1px;padding-left:0.0px;padding-bottom:1.2px;font-size:7.90px;letter-spacing:-0.05px;border-bottom:1px solid #efefef;background:#e8f6ef"></td><td style="text-align:center;padding-right:-0.1px;padding-left:0.0px;padding-bottom:1.2px;font-size:7.90px;letter-spacing:-0.05px;border-bottom:1px solid #efefef;background:#f2faf6"></td><td style="text-align:center;padding-right:-0.1px;padding-left:0.0px;padding-bottom:1.2px;font-size:7.90px;letter-spacing:-0.05px;border-bottom:1px solid #efefef;background:#e9f6f0"></td><td style="text-align:center;padding-right:-0.1px;padding-left:0.0px;padding-bottom:1.2px;font-size:7.90px;letter-spacing:-0.05px;border-bottom:1px solid #efefef"></td><td style="text-align:center;padding-right:-0.1px;padding-left:0.0px;padding-bottom:1.2px;font-size:7.90px;letter-spacing:-0.05px;border-bottom:1px solid #efefef"></td><td style="text-align:center;padding-right:-0.1px;padding-left:0.0px;padding-bottom:1.2px;font-size:7.90px;letter-spacing:-0.05px;border-bottom:1px solid #efefef"></td></tr></table>
</div>
<div class="p sm" style="left:424.0px;top:545.5px;width:346.0px;height:136.5px">
<div class="ttl" style="left:6.5px;top:5.5px;font-size:11.0px;-webkit-text-stroke:0.2px">Goals Conceded When In Goal (Per 50 Mins)</div>
<div class="a" style="left:11.0px;top:39.5px;font-size:7.5px;line-height:10px;font-weight:bold;letter-spacing:-0.05px;">Player<svg width="4" height="6.5" viewBox="0 0 4 8" preserveAspectRatio="none" style="vertical-align:-0.9px;margin-left:2.5px"><path d="M2 0.6V7.4M0.6 2.1L2 0.6L3.4 2.1M0.6 5.9L2 7.4L3.4 5.9" stroke="#a8a8a8" stroke-width="0.9" fill="none"/></svg></div>
<div class="a" style="left:18.0px;width:120px;text-align:right;top:39.5px;font-size:7.5px;line-height:10px;font-weight:bold;letter-spacing:-0.05px;">Apps<svg width="4" height="6.5" viewBox="0 0 4 8" preserveAspectRatio="none" style="vertical-align:-0.9px;margin-left:2.5px"><path d="M2 0.6V7.4M0.6 2.1L2 0.6L3.4 2.1M0.6 5.9L2 7.4L3.4 5.9" stroke="#a8a8a8" stroke-width="0.9" fill="none"/></svg></div>
<div class="a" style="left:63.5px;width:120px;text-align:right;top:39.5px;font-size:7.5px;line-height:10px;font-weight:bold;letter-spacing:-0.05px;">GK Mins<svg width="4" height="6.5" viewBox="0 0 4 8" preserveAspectRatio="none" style="vertical-align:-0.9px;margin-left:2.5px"><path d="M2 0.6V7.4M0.6 2.1L2 0.6L3.4 2.1M0.6 5.9L2 7.4L3.4 5.9" stroke="#a8a8a8" stroke-width="0.9" fill="none"/></svg></div>
<div class="a" style="left:111.0px;width:120px;text-align:right;top:39.5px;font-size:7.5px;line-height:10px;font-weight:bold;letter-spacing:-0.05px;">Conceded<svg width="4" height="6.5" viewBox="0 0 4 8" preserveAspectRatio="none" style="vertical-align:-0.9px;margin-left:2.5px"><path d="M2 0.6V7.4M0.6 2.1L2 0.6L3.4 2.1M0.6 5.9L2 7.4L3.4 5.9" stroke="#a8a8a8" stroke-width="0.9" fill="none"/></svg></div>
<div class="a" style="left:144.5px;width:120px;text-align:right;top:30.6px;font-size:7.5px;line-height:10px;font-weight:bold;letter-spacing:-0.05px;">Clean</div>
<div class="a" style="left:144.5px;width:120px;text-align:right;top:39.5px;font-size:7.5px;line-height:10px;font-weight:bold;letter-spacing:-0.05px;">Sheets<svg width="4" height="6.5" viewBox="0 0 4 8" preserveAspectRatio="none" style="vertical-align:-0.9px;margin-left:2.5px"><path d="M2 0.6V7.4M0.6 2.1L2 0.6L3.4 2.1M0.6 5.9L2 7.4L3.4 5.9" stroke="#a8a8a8" stroke-width="0.9" fill="none"/></svg></div>
<div class="a" style="left:186.5px;width:120px;text-align:right;top:30.6px;font-size:7.5px;line-height:10px;font-weight:bold;letter-spacing:-0.05px;">Clean</div>
<div class="a" style="left:186.5px;width:120px;text-align:right;top:39.5px;font-size:7.5px;line-height:10px;font-weight:bold;letter-spacing:-0.05px;">%<svg width="4" height="6.5" viewBox="0 0 4 8" preserveAspectRatio="none" style="vertical-align:-0.9px;margin-left:2.5px"><path d="M2 0.6V7.4M0.6 2.1L2 0.6L3.4 2.1M0.6 5.9L2 7.4L3.4 5.9" stroke="#a8a8a8" stroke-width="0.9" fill="none"/></svg></div>
<div class="a" style="left:225.5px;width:120px;text-align:right;top:30.6px;font-size:7.5px;line-height:10px;font-weight:bold;letter-spacing:-0.05px;">% o</div>
<div class="a" style="left:222.0px;width:120px;text-align:right;top:39.5px;font-size:7.5px;line-height:10px;font-weight:bold;letter-spacing:-0.05px;">Goals</div>
<div class="a" style="left:6.0px;top:52.5px;width:340px;height:1px;background:#ececec"></div>
<div class="a" style="left:11.0px;top:58.5px;font-size:8.0px;line-height:10px;letter-spacing:-0.25px;">Leo</div>
<div class="a" style="left:18.0px;width:120px;text-align:right;top:58.5px;font-size:8.0px;line-height:10px;letter-spacing:-0.25px;">19</div>
<div class="a" style="left:60.5px;width:120px;text-align:right;top:58.5px;font-size:8.0px;line-height:10px;letter-spacing:-0.25px;">238</div>
<div class="a" style="left:102.5px;width:120px;text-align:right;top:58.5px;font-size:8.0px;line-height:10px;letter-spacing:-0.25px;"><u>9</u></div>
<div class="a" style="left:144.5px;width:120px;text-align:right;top:58.5px;font-size:8.0px;line-height:10px;letter-spacing:-0.25px;">12</div>
<div class="a" style="left:186.5px;width:120px;text-align:right;top:58.5px;font-size:8.0px;line-height:10px;letter-spacing:-0.25px;">63</div>
<div class="a" style="left:229.0px;width:120px;text-align:right;top:58.5px;font-size:8.0px;line-height:10px;letter-spacing:-0.25px;">17%</div>
<div class="a" style="left:6.0px;top:71.8px;width:340px;height:1px;background:#efefef"></div>
<div class="a" style="left:11.0px;top:77.5px;font-size:8.0px;line-height:10px;letter-spacing:-0.25px;">Ethan</div>
<div class="a" style="left:18.0px;width:120px;text-align:right;top:77.5px;font-size:8.0px;line-height:10px;letter-spacing:-0.25px;">18</div>
<div class="a" style="left:60.5px;width:120px;text-align:right;top:77.5px;font-size:8.0px;line-height:10px;letter-spacing:-0.25px;">225</div>
<div class="a" style="left:102.5px;width:120px;text-align:right;top:77.5px;font-size:8.0px;line-height:10px;letter-spacing:-0.25px;"><u>10</u></div>
<div class="a" style="left:144.5px;width:120px;text-align:right;top:77.5px;font-size:8.0px;line-height:10px;letter-spacing:-0.25px;">9</div>
<div class="a" style="left:186.5px;width:120px;text-align:right;top:77.5px;font-size:8.0px;line-height:10px;letter-spacing:-0.25px;">50</div>
<div class="a" style="left:229.0px;width:120px;text-align:right;top:77.5px;font-size:8.0px;line-height:10px;letter-spacing:-0.25px;">22%</div>
<div class="a" style="left:6.0px;top:90.8px;width:340px;height:1px;background:#efefef"></div>
<div class="a" style="left:11.0px;top:96.6px;font-size:8.0px;line-height:10px;letter-spacing:-0.25px;">Lucas</div>
<div class="a" style="left:18.0px;width:120px;text-align:right;top:96.6px;font-size:8.0px;line-height:10px;letter-spacing:-0.25px;">16</div>
<div class="a" style="left:60.5px;width:120px;text-align:right;top:96.6px;font-size:8.0px;line-height:10px;letter-spacing:-0.25px;">200</div>
<div class="a" style="left:102.5px;width:120px;text-align:right;top:96.6px;font-size:8.0px;line-height:10px;letter-spacing:-0.25px;"><u>10</u></div>
<div class="a" style="left:144.5px;width:120px;text-align:right;top:96.6px;font-size:8.0px;line-height:10px;letter-spacing:-0.25px;">7</div>
<div class="a" style="left:186.5px;width:120px;text-align:right;top:96.6px;font-size:8.0px;line-height:10px;letter-spacing:-0.25px;">44</div>
<div class="a" style="left:229.0px;width:120px;text-align:right;top:96.6px;font-size:8.0px;line-height:10px;letter-spacing:-0.25px;">23%</div>
<div class="a" style="left:6.0px;top:109.9px;width:340px;height:1px;background:#efefef"></div>
<div class="a" style="left:11.0px;top:115.6px;font-size:8.0px;line-height:10px;letter-spacing:-0.25px;">Kai</div>
<div class="a" style="left:18.0px;width:120px;text-align:right;top:115.6px;font-size:8.0px;line-height:10px;letter-spacing:-0.25px;">17</div>
<div class="a" style="left:60.5px;width:120px;text-align:right;top:115.6px;font-size:8.0px;line-height:10px;letter-spacing:-0.25px;">213</div>
<div class="a" style="left:102.5px;width:120px;text-align:right;top:115.6px;font-size:8.0px;line-height:10px;letter-spacing:-0.25px;"><u>14</u></div>
<div class="a" style="left:144.5px;width:120px;text-align:right;top:115.6px;font-size:8.0px;line-height:10px;letter-spacing:-0.25px;">8</div>
<div class="a" style="left:186.5px;width:120px;text-align:right;top:115.6px;font-size:8.0px;line-height:10px;letter-spacing:-0.25px;">47</div>
<div class="a" style="left:229.0px;width:120px;text-align:right;top:115.6px;font-size:8.0px;line-height:10px;letter-spacing:-0.25px;">25%</div>
<div class="a" style="left:6.0px;top:128.9px;width:340px;height:1px;background:#efefef"></div>
<div class="a" style="left:11.0px;top:134.6px;font-size:8.0px;line-height:10px;letter-spacing:-0.25px;">Max</div>
<div class="a" style="left:18.0px;width:120px;text-align:right;top:134.6px;font-size:8.0px;line-height:10px;letter-spacing:-0.25px;">14</div>
<div class="a" style="left:60.5px;width:120px;text-align:right;top:134.6px;font-size:8.0px;line-height:10px;letter-spacing:-0.25px;">180</div>
<div class="a" style="left:102.5px;width:120px;text-align:right;top:134.6px;font-size:8.0px;line-height:10px;letter-spacing:-0.25px;"><u>11</u></div>
<div class="a" style="left:144.5px;width:120px;text-align:right;top:134.6px;font-size:8.0px;line-height:10px;letter-spacing:-0.25px;">6</div>
<div class="a" style="left:186.5px;width:120px;text-align:right;top:134.6px;font-size:8.0px;line-height:10px;letter-spacing:-0.25px;">40</div>
<div class="a" style="left:229.0px;width:120px;text-align:right;top:134.6px;font-size:8.0px;line-height:10px;letter-spacing:-0.25px;">20%</div>
<div class="a" style="left:6.0px;top:147.9px;width:340px;height:1px;background:#efefef"></div>
</div>
<div class="p" style="left:808px;top:284px;width:301px;height:206px">
<div class="ttl" style="left:14.5px;top:4.0px;font-size:14.2px">PPG (When Player Is On Pitch - Outfield)</div>
<div class="a" style="left:14.5px;top:29.0px;font-size:9.4px;color:#222">Reset exclusions</div>
<table style="left:15.0px;top:46.0px;width:293.0px"><colgroup><col style="width:55.5px"><col style="width:56.0px"><col style="width:36.0px"><col style="width:33.0px"><col style="width:32.5px"><col style="width:40.0px"><col style="width:40.0px"></colgroup><tr style="height:35.5px"><th style="text-align:left;font-size:9.3px;font-weight:bold;border-bottom:1px solid #efefef;vertical-align:top;padding-top:7px;padding-left:6px">Player <svg width="4" height="8.0" viewBox="0 0 4 8" preserveAspectRatio="none" style="vertical-align:-1.1px;margin-left:3.1px"><path d="M2 0.6V7.4M0.6 2.1L2 0.6L3.4 2.1M0.6 5.9L2 7.4L3.4 5.9" stroke="#a8a8a8" stroke-width="0.9" fill="none"/></svg></th><th style="text-align:right;font-size:9.3px;font-weight:bold;border-bottom:1px solid #efefef;vertical-align:top;padding-top:7px;padding-right:6px">Apps <svg width="4" height="8.0" viewBox="0 0 4 8" preserveAspectRatio="none" style="vertical-align:-1.1px;margin-left:3.1px"><path d="M2 0.6V7.4M0.6 2.1L2 0.6L3.4 2.1M0.6 5.9L2 7.4L3.4 5.9" stroke="#a8a8a8" stroke-width="0.9" fill="none"/></svg></th><th style="text-align:right;font-size:9.3px;font-weight:bold;border-bottom:1px solid #efefef;vertical-align:top;padding-top:7px;padding-right:6px">W <svg width="4" height="8.0" viewBox="0 0 4 8" preserveAspectRatio="none" style="vertical-align:-1.1px;margin-left:3.1px"><path d="M2 0.6V7.4M0.6 2.1L2 0.6L3.4 2.1M0.6 5.9L2 7.4L3.4 5.9" stroke="#a8a8a8" stroke-width="0.9" fill="none"/></svg></th><th style="text-align:right;font-size:9.3px;font-weight:bold;border-bottom:1px solid #efefef;vertical-align:top;padding-top:7px;padding-right:6px">D <svg width="4" height="8.0" viewBox="0 0 4 8" preserveAspectRatio="none" style="vertical-align:-1.1px;margin-left:3.1px"><path d="M2 0.6V7.4M0.6 2.1L2 0.6L3.4 2.1M0.6 5.9L2 7.4L3.4 5.9" stroke="#a8a8a8" stroke-width="0.9" fill="none"/></svg></th><th style="text-align:right;font-size:9.3px;font-weight:bold;border-bottom:1px solid #efefef;vertical-align:top;padding-top:7px;padding-right:6px">L <svg width="4" height="8.0" viewBox="0 0 4 8" preserveAspectRatio="none" style="vertical-align:-1.1px;margin-left:3.1px"><path d="M2 0.6V7.4M0.6 2.1L2 0.6L3.4 2.1M0.6 5.9L2 7.4L3.4 5.9" stroke="#a8a8a8" stroke-width="0.9" fill="none"/></svg></th><th style="text-align:right;font-size:9.3px;font-weight:bold;border-bottom:1px solid #efefef;vertical-align:top;padding-top:7px;padding-right:6px">GF <svg width="4" height="8.0" viewBox="0 0 4 8" preserveAspectRatio="none" style="vertical-align:-1.1px;margin-left:3.1px"><path d="M2 0.6V7.4M0.6 2.1L2 0.6L3.4 2.1M0.6 5.9L2 7.4L3.4 5.9" stroke="#a8a8a8" stroke-width="0.9" fill="none"/></svg></th><th style="text-align:right;font-size:9.3px;font-weight:bold;border-bottom:1px solid #efefef;vertical-align:top;padding-top:7px;padding-right:6px">GA <svg width="4" height="8.0" viewBox="0 0 4 8" preserveAspectRatio="none" style="vertical-align:-1.1px;margin-left:3.1px"><path d="M2 0.6V7.4M0.6 2.1L2 0.6L3.4 2.1M0.6 5.9L2 7.4L3.4 5.9" stroke="#a8a8a8" stroke-width="0.9" fill="none"/></svg></th></tr><tr style="height:24.4px"><td style="text-align:left;font-size:9.9px;letter-spacing:-0.3px;border-bottom:1px solid #efefef;padding-left:6px">Lucas</td><td style="text-align:right;font-size:9.9px;letter-spacing:-0.3px;border-bottom:1px solid #efefef;padding-right:5.7px">21</td><td style="text-align:right;font-size:9.9px;letter-spacing:-0.3px;border-bottom:1px solid #efefef;padding-right:5.7px">9</td><td style="text-align:right;font-size:9.9px;letter-spacing:-0.3px;border-bottom:1px solid #efefef;padding-right:5.7px">5</td><td style="text-align:right;font-size:9.9px;letter-spacing:-0.3px;border-bottom:1px solid #efefef;padding-right:5.7px">7</td><td style="text-align:right;font-size:9.9px;letter-spacing:-0.3px;border-bottom:1px solid #efefef;padding-right:5.7px">47</td><td style="text-align:right;font-size:9.9px;letter-spacing:-0.3px;border-bottom:1px solid #efefef;padding-right:5.7px">40</td></tr><tr style="height:24.4px"><td style="text-align:left;font-size:9.9px;letter-spacing:-0.3px;border-bottom:1px solid #efefef;padding-left:6px">Zaid</td><td style="text-align:right;font-size:9.9px;letter-spacing:-0.3px;border-bottom:1px solid #efefef;padding-right:5.7px">21</td><td style="text-align:right;font-size:9.9px;letter-spacing:-0.3px;border-bottom:1px solid #efefef;padding-right:5.7px">9</td><td style="text-align:right;font-size:9.9px;letter-spacing:-0.3px;border-bottom:1px solid #efefef;padding-right:5.7px">5</td><td style="text-align:right;font-size:9.9px;letter-spacing:-0.3px;border-bottom:1px solid #efefef;padding-right:5.7px">7</td><td style="text-align:right;font-size:9.9px;letter-spacing:-0.3px;border-bottom:1px solid #efefef;padding-right:5.7px">50</td><td style="text-align:right;font-size:9.9px;letter-spacing:-0.3px;border-bottom:1px solid #efefef;padding-right:5.7px">38</td></tr><tr style="height:24.4px"><td style="text-align:left;font-size:9.9px;letter-spacing:-0.3px;border-bottom:1px solid #efefef;padding-left:6px">Adam</td><td style="text-align:right;font-size:9.9px;letter-spacing:-0.3px;border-bottom:1px solid #efefef;padding-right:5.7px">21</td><td style="text-align:right;font-size:9.9px;letter-spacing:-0.3px;border-bottom:1px solid #efefef;padding-right:5.7px">9</td><td style="text-align:right;font-size:9.9px;letter-spacing:-0.3px;border-bottom:1px solid #efefef;padding-right:5.7px">2</td><td style="text-align:right;font-size:9.9px;letter-spacing:-0.3px;border-bottom:1px solid #efefef;padding-right:5.7px">10</td><td style="text-align:right;font-size:9.9px;letter-spacing:-0.3px;border-bottom:1px solid #efefef;padding-right:5.7px">45</td><td style="text-align:right;font-size:9.9px;letter-spacing:-0.3px;border-bottom:1px solid #efefef;padding-right:5.7px">45</td></tr><tr style="height:24.4px"><td style="text-align:left;font-size:9.9px;letter-spacing:-0.3px;border-bottom:1px solid #efefef;padding-left:6px">Mason</td><td style="text-align:right;font-size:9.9px;letter-spacing:-0.3px;border-bottom:1px solid #efefef;padding-right:5.7px">21</td><td style="text-align:right;font-size:9.9px;letter-spacing:-0.3px;border-bottom:1px solid #efefef;padding-right:5.7px">9</td><td style="text-align:right;font-size:9.9px;letter-spacing:-0.3px;border-bottom:1px solid #efefef;padding-right:5.7px">2</td><td style="text-align:right;font-size:9.9px;letter-spacing:-0.3px;border-bottom:1px solid #efefef;padding-right:5.7px">10</td><td style="text-align:right;font-size:9.9px;letter-spacing:-0.3px;border-bottom:1px solid #efefef;padding-right:5.7px">45</td><td style="text-align:right;font-size:9.9px;letter-spacing:-0.3px;border-bottom:1px solid #efefef;padding-right:5.7px">41</td></tr><tr style="height:24.4px"><td style="text-align:left;font-size:9.9px;letter-spacing:-0.3px;border-bottom:1px solid #efefef;padding-left:6px">Leo</td><td style="text-align:right;font-size:9.9px;letter-spacing:-0.3px;border-bottom:1px solid #efefef;padding-right:5.7px">22</td><td style="text-align:right;font-size:9.9px;letter-spacing:-0.3px;border-bottom:1px solid #efefef;padding-right:5.7px">8</td><td style="text-align:right;font-size:9.9px;letter-spacing:-0.3px;border-bottom:1px solid #efefef;padding-right:5.7px">5</td><td style="text-align:right;font-size:9.9px;letter-spacing:-0.3px;border-bottom:1px solid #efefef;padding-right:5.7px">9</td><td style="text-align:right;font-size:9.9px;letter-spacing:-0.3px;border-bottom:1px solid #efefef;padding-right:5.7px">50</td><td style="text-align:right;font-size:9.9px;letter-spacing:-0.3px;border-bottom:1px solid #efefef;padding-right:5.7px">43</td></tr></table>
</div>
<div class="p" style="left:773px;top:488px;width:336px;height:194px">
<div class="ttl" style="left:4.5px;top:6.5px;font-size:13.0px">Team Goal Diff Per 50 Mins (Minimum 50 Mins)</div>
<table style="left:4.5px;top:30.0px;width:370.5px"><colgroup><col style="width:81.80px"><col style="width:41.20px"><col style="width:41.20px"><col style="width:41.30px"><col style="width:41.20px"><col style="width:41.30px"><col style="width:41.30px"><col style="width:41.20px"></colgroup><tr style="height:22.5px"><th style="text-align:left;padding-right:0.0px;padding-left:6.0px;font-size:9.60px;letter-spacing:-0.20px;font-weight:bold;color:#1a1a1a;border-bottom:1px solid #efefef;vertical-align:middle;overflow:visible"><span style="position:relative;left:0.0px">Player<svg width="4" height="8.2" viewBox="0 0 4 8" preserveAspectRatio="none" style="vertical-align:-1.2px;margin-left:3.2px"><path d="M2 0.6V7.4M0.6 2.1L2 0.6L3.4 2.1M0.6 5.9L2 7.4L3.4 5.9" stroke="#a8a8a8" stroke-width="0.9" fill="none"/></svg></span></th><th style="text-align:right;padding-right:6.0px;padding-left:0.0px;font-size:9.60px;letter-spacing:-0.20px;font-weight:bold;color:#1a1a1a;border-bottom:1px solid #efefef;vertical-align:middle;overflow:visible"><span style="position:relative;left:3.5px">Outfield<svg width="4" height="8.2" viewBox="0 0 4 8" preserveAspectRatio="none" style="vertical-align:-1.2px;margin-left:3.2px"><path d="M2 0.6V7.4M0.6 2.1L2 0.6L3.4 2.1M0.6 5.9L2 7.4L3.4 5.9" stroke="#a8a8a8" stroke-width="0.9" fill="none"/></svg></span></th><th style="text-align:right;padding-right:6.0px;padding-left:0.0px;font-size:9.60px;letter-spacing:-0.20px;font-weight:bold;color:#1a1a1a;border-bottom:1px solid #efefef;vertical-align:middle;overflow:visible"><span style="position:relative;left:0.0px">GK<svg width="4" height="8.2" viewBox="0 0 4 8" preserveAspectRatio="none" style="vertical-align:-1.2px;margin-left:3.2px"><path d="M2 0.6V7.4M0.6 2.1L2 0.6L3.4 2.1M0.6 5.9L2 7.4L3.4 5.9" stroke="#a8a8a8" stroke-width="0.9" fill="none"/></svg></span></th><th style="text-align:right;padding-right:6.0px;padding-left:0.0px;font-size:9.60px;letter-spacing:-0.20px;font-weight:bold;color:#1a1a1a;border-bottom:1px solid #efefef;vertical-align:middle;overflow:visible"><span style="position:relative;left:0.0px">CB<svg width="4" height="8.2" viewBox="0 0 4 8" preserveAspectRatio="none" style="vertical-align:-1.2px;margin-left:3.2px"><path d="M2 0.6V7.4M0.6 2.1L2 0.6L3.4 2.1M0.6 5.9L2 7.4L3.4 5.9" stroke="#a8a8a8" stroke-width="0.9" fill="none"/></svg></span></th><th style="text-align:right;padding-right:6.0px;padding-left:0.0px;font-size:9.60px;letter-spacing:-0.20px;font-weight:bold;color:#1a1a1a;border-bottom:1px solid #efefef;vertical-align:middle;overflow:visible"><span style="position:relative;left:0.0px">CDM<svg width="4" height="8.2" viewBox="0 0 4 8" preserveAspectRatio="none" style="vertical-align:-1.2px;margin-left:3.2px"><path d="M2 0.6V7.4M0.6 2.1L2 0.6L3.4 2.1M0.6 5.9L2 7.4L3.4 5.9" stroke="#a8a8a8" stroke-width="0.9" fill="none"/></svg></span></th><th style="text-align:right;padding-right:6.0px;padding-left:0.0px;font-size:9.60px;letter-spacing:-0.20px;font-weight:bold;color:#1a1a1a;border-bottom:1px solid #efefef;vertical-align:middle;overflow:visible"><span style="position:relative;left:0.0px">CM<svg width="4" height="8.2" viewBox="0 0 4 8" preserveAspectRatio="none" style="vertical-align:-1.2px;margin-left:3.2px"><path d="M2 0.6V7.4M0.6 2.1L2 0.6L3.4 2.1M0.6 5.9L2 7.4L3.4 5.9" stroke="#a8a8a8" stroke-width="0.9" fill="none"/></svg></span></th><th style="text-align:right;padding-right:6.0px;padding-left:0.0px;font-size:9.60px;letter-spacing:-0.20px;font-weight:bold;color:#1a1a1a;border-bottom:1px solid #efefef;vertical-align:middle;overflow:visible"><span style="position:relative;left:0.0px">LW<svg width="4" height="8.2" viewBox="0 0 4 8" preserveAspectRatio="none" style="vertical-align:-1.2px;margin-left:3.2px"><path d="M2 0.6V7.4M0.6 2.1L2 0.6L3.4 2.1M0.6 5.9L2 7.4L3.4 5.9" stroke="#a8a8a8" stroke-width="0.9" fill="none"/></svg></span></th><th style="text-align:right;padding-right:6.0px;padding-left:0.0px;font-size:9.60px;letter-spacing:-0.20px;font-weight:bold;color:#1a1a1a;border-bottom:1px solid #efefef;vertical-align:middle;overflow:visible"><span style="position:relative;left:0.0px"><svg width="4" height="8.2" viewBox="0 0 4 8" preserveAspectRatio="none" style="vertical-align:-1.2px;margin-left:3.2px"><path d="M2 0.6V7.4M0.6 2.1L2 0.6L3.4 2.1M0.6 5.9L2 7.4L3.4 5.9" stroke="#a8a8a8" stroke-width="0.9" fill="none"/></svg></span></th></tr><tr style="height:22.3px"><td style="text-align:left;padding-right:-0.3px;padding-left:6.0px;padding-bottom:1.5px;font-size:9.90px;letter-spacing:-0.30px;border-bottom:1px solid #efefef">Zaid</td><td style="text-align:right;padding-right:5.7px;padding-left:0.0px;padding-bottom:1.5px;font-size:9.90px;letter-spacing:-0.30px;border-bottom:1px solid #efefef;background:#57bb8a">0.83</td><td style="text-align:right;padding-right:5.7px;padding-left:0.0px;padding-bottom:1.5px;font-size:9.90px;letter-spacing:-0.30px;border-bottom:1px solid #efefef"></td><td style="text-align:right;padding-right:5.7px;padding-left:0.0px;padding-bottom:1.5px;font-size:9.90px;letter-spacing:-0.30px;border-bottom:1px solid #efefef"></td><td style="text-align:right;padding-right:5.7px;padding-left:0.0px;padding-bottom:1.5px;font-size:9.90px;letter-spacing:-0.30px;border-bottom:1px solid #efefef;background:#f2faf6">0.32</td><td style="text-align:right;padding-right:5.7px;padding-left:0.0px;padding-bottom:1.5px;font-size:9.90px;letter-spacing:-0.30px;border-bottom:1px solid #efefef;background:#7fcba6">1.83</td><td style="text-align:right;padding-right:5.7px;padding-left:0.0px;padding-bottom:1.5px;font-size:9.90px;letter-spacing:-0.30px;border-bottom:1px solid #efefef"></td><td style="text-align:right;padding-right:5.7px;padding-left:0.0px;padding-bottom:1.5px;font-size:9.90px;letter-spacing:-0.30px;border-bottom:1px solid #efefef"></td></tr><tr style="height:22.3px"><td style="text-align:left;padding-right:-0.3px;padding-left:6.0px;padding-bottom:1.5px;font-size:9.90px;letter-spacing:-0.30px;border-bottom:1px solid #efefef">Max</td><td style="text-align:right;padding-right:5.7px;padding-left:0.0px;padding-bottom:1.5px;font-size:9.90px;letter-spacing:-0.30px;border-bottom:1px solid #efefef;background:#59bc8b">0.82</td><td style="text-align:right;padding-right:5.7px;padding-left:0.0px;padding-bottom:1.5px;font-size:9.90px;letter-spacing:-0.30px;border-bottom:1px solid #efefef;background:#e67c73">-1.45</td><td style="text-align:right;padding-right:5.7px;padding-left:0.0px;padding-bottom:1.5px;font-size:9.90px;letter-spacing:-0.30px;border-bottom:1px solid #efefef;background:#e0f3ea">0.68</td><td style="text-align:right;padding-right:5.7px;padding-left:0.0px;padding-bottom:1.5px;font-size:9.90px;letter-spacing:-0.30px;border-bottom:1px solid #efefef"></td><td style="text-align:right;padding-right:5.7px;padding-left:0.0px;padding-bottom:1.5px;font-size:9.90px;letter-spacing:-0.30px;border-bottom:1px solid #efefef"></td><td style="text-align:right;padding-right:5.7px;padding-left:0.0px;padding-bottom:1.5px;font-size:9.90px;letter-spacing:-0.30px;border-bottom:1px solid #efefef"></td><td style="text-align:right;padding-right:5.7px;padding-left:0.0px;padding-bottom:1.5px;font-size:9.90px;letter-spacing:-0.30px;border-bottom:1px solid #efefef"></td></tr><tr style="height:22.3px"><td style="text-align:left;padding-right:-0.3px;padding-left:6.0px;padding-bottom:1.5px;font-size:9.90px;letter-spacing:-0.30px;border-bottom:1px solid #efefef">Ethan</td><td style="text-align:right;padding-right:5.7px;padding-left:0.0px;padding-bottom:1.5px;font-size:9.90px;letter-spacing:-0.30px;border-bottom:1px solid #efefef;background:#79c9a2">0.66</td><td style="text-align:right;padding-right:5.7px;padding-left:0.0px;padding-bottom:1.5px;font-size:9.90px;letter-spacing:-0.30px;border-bottom:1px solid #efefef;background:#57bb8a">1.78</td><td style="text-align:right;padding-right:5.7px;padding-left:0.0px;padding-bottom:1.5px;font-size:9.90px;letter-spacing:-0.30px;border-bottom:1px solid #efefef"></td><td style="text-align:right;padding-right:5.7px;padding-left:0.0px;padding-bottom:1.5px;font-size:9.90px;letter-spacing:-0.30px;border-bottom:1px solid #efefef;background:#57bb8a">4.00</td><td style="text-align:right;padding-right:5.7px;padding-left:0.0px;padding-bottom:1.5px;font-size:9.90px;letter-spacing:-0.30px;border-bottom:1px solid #efefef;background:#57bb8a">2.40</td><td style="text-align:right;padding-right:5.7px;padding-left:0.0px;padding-bottom:1.5px;font-size:9.90px;letter-spacing:-0.30px;border-bottom:1px solid #efefef"></td><td style="text-align:right;padding-right:5.7px;padding-left:0.0px;padding-bottom:1.5px;font-size:9.90px;letter-spacing:-0.30px;border-bottom:1px solid #efefef"></td></tr><tr style="height:22.3px"><td style="text-align:left;padding-right:-0.3px;padding-left:6.0px;padding-bottom:1.5px;font-size:9.90px;letter-spacing:-0.30px;border-bottom:1px solid #efefef">Lucas</td><td style="text-align:right;padding-right:5.7px;padding-left:0.0px;padding-bottom:1.5px;font-size:9.90px;letter-spacing:-0.30px;border-bottom:1px solid #efefef;background:#86ceaa">0.60</td><td style="text-align:right;padding-right:5.7px;padding-left:0.0px;padding-bottom:1.5px;font-size:9.90px;letter-spacing:-0.30px;border-bottom:1px solid #efefef;background:#a1d9bd">1.00</td><td style="text-align:right;padding-right:5.7px;padding-left:0.0px;padding-bottom:1.5px;font-size:9.90px;letter-spacing:-0.30px;border-bottom:1px solid #efefef"></td><td style="text-align:right;padding-right:5.7px;padding-left:0.0px;padding-bottom:1.5px;font-size:9.90px;letter-spacing:-0.30px;border-bottom:1px solid #efefef"></td><td style="text-align:right;padding-right:5.7px;padding-left:0.0px;padding-bottom:1.5px;font-size:9.90px;letter-spacing:-0.30px;border-bottom:1px solid #efefef"></td><td style="text-align:right;padding-right:5.7px;padding-left:0.0px;padding-bottom:1.5px;font-size:9.90px;letter-spacing:-0.30px;border-bottom:1px solid #efefef;background:#84cda9">2.12</td><td style="text-align:right;padding-right:5.7px;padding-left:0.0px;padding-bottom:1.5px;font-size:9.90px;letter-spacing:-0.30px;border-bottom:1px solid #efefef;background:#57bb8a">1.50</td></tr><tr style="height:22.3px"><td style="text-align:left;padding-right:-0.3px;padding-left:6.0px;padding-bottom:1.5px;font-size:9.90px;letter-spacing:-0.30px;border-bottom:1px solid #efefef">Leo</td><td style="text-align:right;padding-right:5.7px;padding-left:0.0px;padding-bottom:1.5px;font-size:9.90px;letter-spacing:-0.30px;border-bottom:1px solid #efefef;background:#9ed8bb">0.48</td><td style="text-align:right;padding-right:5.7px;padding-left:0.0px;padding-bottom:1.5px;font-size:9.90px;letter-spacing:-0.30px;border-bottom:1px solid #efefef;background:#9cd7ba">1.05</td><td style="text-align:right;padding-right:5.7px;padding-left:0.0px;padding-bottom:1.5px;font-size:9.90px;letter-spacing:-0.30px;border-bottom:1px solid #efefef;background:#57bb8a">3.73</td><td style="text-align:right;padding-right:5.7px;padding-left:0.0px;padding-bottom:1.5px;font-size:9.90px;letter-spacing:-0.30px;border-bottom:1px solid #efefef;background:#ebf7f1">0.48</td><td style="text-align:right;padding-right:5.7px;padding-left:0.0px;padding-bottom:1.5px;font-size:9.90px;letter-spacing:-0.30px;border-bottom:1px solid #efefef"></td><td style="text-align:right;padding-right:5.7px;padding-left:0.0px;padding-bottom:1.5px;font-size:9.90px;letter-spacing:-0.30px;border-bottom:1px solid #efefef;background:#e67c73">-3.00</td><td style="text-align:right;padding-right:5.7px;padding-left:0.0px;padding-bottom:1.5px;font-size:9.90px;letter-spacing:-0.30px;border-bottom:1px solid #efefef"></td></tr><tr style="height:22.3px"><td style="text-align:left;padding-right:-0.3px;padding-left:6.0px;padding-bottom:1.5px;font-size:9.90px;letter-spacing:-0.30px;border-bottom:1px solid #efefef">Jamie</td><td style="text-align:right;padding-right:5.7px;padding-left:0.0px;padding-bottom:1.5px;font-size:9.90px;letter-spacing:-0.30px;border-bottom:1px solid #efefef;background:#acddc5">0.41</td><td style="text-align:right;padding-right:5.7px;padding-left:0.0px;padding-bottom:1.5px;font-size:9.90px;letter-spacing:-0.30px;border-bottom:1px solid #efefef;background:#e8877f">-1.33</td><td style="text-align:right;padding-right:5.7px;padding-left:0.0px;padding-bottom:1.5px;font-size:9.90px;letter-spacing:-0.30px;border-bottom:1px solid #efefef"></td><td style="text-align:right;padding-right:5.7px;padding-left:0.0px;padding-bottom:1.5px;font-size:9.90px;letter-spacing:-0.30px;border-bottom:1px solid #efefef"></td><td style="text-align:right;padding-right:5.7px;padding-left:0.0px;padding-bottom:1.5px;font-size:9.90px;letter-spacing:-0.30px;border-bottom:1px solid #efefef"></td><td style="text-align:right;padding-right:5.7px;padding-left:0.0px;padding-bottom:1.5px;font-size:9.90px;letter-spacing:-0.30px;border-bottom:1px solid #efefef;background:#d6efe3">0.70</td><td style="text-align:right;padding-right:5.7px;padding-left:0.0px;padding-bottom:1.5px;font-size:9.90px;letter-spacing:-0.30px;border-bottom:1px solid #efefef;background:#8fd2b1">1.00</td></tr><tr style="height:22.3px"><td style="text-align:left;padding-right:-0.3px;padding-left:6.0px;padding-bottom:1.5px;font-size:9.90px;letter-spacing:-0.30px;border-bottom:1px solid #efefef"></td><td style="text-align:right;padding-right:5.7px;padding-left:0.0px;padding-bottom:1.5px;font-size:9.90px;letter-spacing:-0.30px;border-bottom:1px solid #efefef;background:#aedec7">0.40</td><td style="text-align:right;padding-right:5.7px;padding-left:0.0px;padding-bottom:1.5px;font-size:9.90px;letter-spacing:-0.30px;border-bottom:1px solid #efefef"></td><td style="text-align:right;padding-right:5.7px;padding-left:0.0px;padding-bottom:1.5px;font-size:9.90px;letter-spacing:-0.30px;border-bottom:1px solid #efefef;background:#eff9f4">0.35</td><td style="text-align:right;padding-right:5.7px;padding-left:0.0px;padding-bottom:1.5px;font-size:9.90px;letter-spacing:-0.30px;border-bottom:1px solid #efefef;background:#fdf3f3">-0.08</td><td style="text-align:right;padding-right:5.7px;padding-left:0.0px;padding-bottom:1.5px;font-size:9.90px;letter-spacing:-0.30px;border-bottom:1px solid #efefef"></td><td style="text-align:right;padding-right:5.7px;padding-left:0.0px;padding-bottom:1.5px;font-size:9.90px;letter-spacing:-0.30px;border-bottom:1px solid #efefef"></td><td style="text-align:right;padding-right:5.7px;padding-left:0.0px;padding-bottom:1.5px;font-size:9.90px;letter-spacing:-0.30px;border-bottom:1px solid #efefef"></td></tr></table>
</div>
<div class="p" style="left:0;top:0;width:963px;height:44px"></div>
<div class="sel" style="left:4px;width:141px">Division 1<svg width="11" height="8" viewBox="0 0 11 8"><path d="M1.5 1.8 L5.5 5.8 L9.5 1.8" fill="none" stroke="#1a1a1a" stroke-width="2.1"/></svg></div>
<div class="sel" style="left:155px;width:131px">2 CBs<svg width="11" height="8" viewBox="0 0 11 8"><path d="M1.5 1.8 L5.5 5.8 L9.5 1.8" fill="none" stroke="#1a1a1a" stroke-width="2.1"/></svg></div>
<div class="sel" style="left:297px;width:157px">Good Teams<svg width="11" height="8" viewBox="0 0 11 8"><path d="M1.5 1.8 L5.5 5.8 L9.5 1.8" fill="none" stroke="#1a1a1a" stroke-width="2.1"/></svg></div>
<div class="sel" style="left:465px;width:128px">Home<svg width="11" height="8" viewBox="0 0 11 8"><path d="M1.5 1.8 L5.5 5.8 L9.5 1.8" fill="none" stroke="#1a1a1a" stroke-width="2.1"/></svg></div>
<div class="sel" style="left:604px;width:180px">Grass (Good)<svg width="11" height="8" viewBox="0 0 11 8"><path d="M1.5 1.8 L5.5 5.8 L9.5 1.8" fill="none" stroke="#1a1a1a" stroke-width="2.1"/></svg></div>
<div class="sel" style="left:795px;width:162px">All Games<svg width="11" height="8" viewBox="0 0 11 8"><path d="M1.5 1.8 L5.5 5.8 L9.5 1.8" fill="none" stroke="#1a1a1a" stroke-width="2.1"/></svg></div>
</body></html>
